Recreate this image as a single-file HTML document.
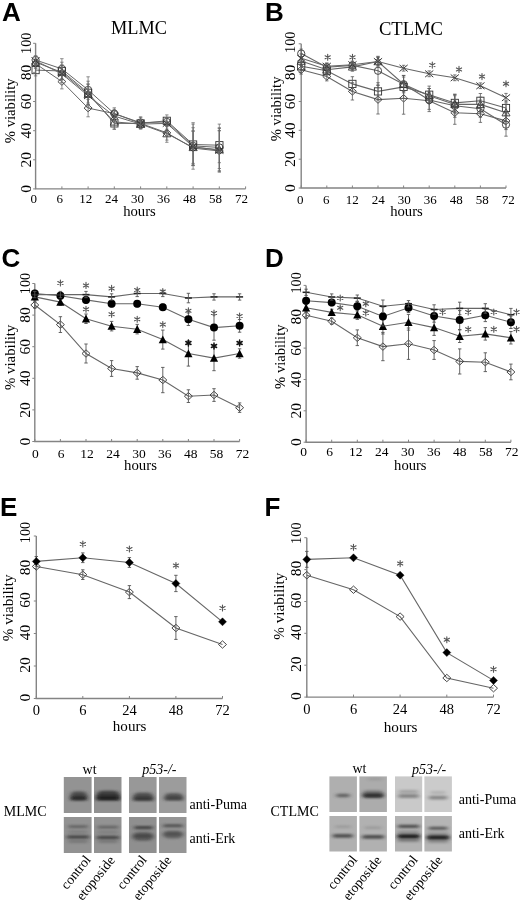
<!DOCTYPE html><html><head><meta charset="utf-8"><style>html,body{margin:0;padding:0;background:#fff;}svg{display:block;will-change:transform;}</style></head><body>
<svg width="520" height="904" viewBox="0 0 520 904">
<rect width="520" height="904" fill="#fff"/>
<text font-family="'Liberation Sans', sans-serif" font-weight="bold" font-size="26" x="2.0" y="21.3">A</text>
<text font-family="'Liberation Serif', serif" font-size="18.3" text-anchor="middle" x="139" y="34.3">MLMC</text>
<path d="M35.6,43.3 V188.9 H245.6" fill="none" stroke="#848484" stroke-width="1.4"/>
<line x1="33.1" y1="188.9" x2="35.6" y2="188.9" stroke="#848484" stroke-width="1"/>
<text font-family="'Liberation Serif', serif" font-size="15.5" text-anchor="middle" transform="translate(31.3,188.9) rotate(-90)">0</text>
<line x1="33.1" y1="159.8" x2="35.6" y2="159.8" stroke="#848484" stroke-width="1"/>
<text font-family="'Liberation Serif', serif" font-size="15.5" text-anchor="middle" transform="translate(31.3,159.8) rotate(-90)">20</text>
<line x1="33.1" y1="130.7" x2="35.6" y2="130.7" stroke="#848484" stroke-width="1"/>
<text font-family="'Liberation Serif', serif" font-size="15.5" text-anchor="middle" transform="translate(31.3,130.7) rotate(-90)">40</text>
<line x1="33.1" y1="101.5" x2="35.6" y2="101.5" stroke="#848484" stroke-width="1"/>
<text font-family="'Liberation Serif', serif" font-size="15.5" text-anchor="middle" transform="translate(31.3,101.5) rotate(-90)">60</text>
<line x1="33.1" y1="72.4" x2="35.6" y2="72.4" stroke="#848484" stroke-width="1"/>
<text font-family="'Liberation Serif', serif" font-size="15.5" text-anchor="middle" transform="translate(31.3,72.4) rotate(-90)">80</text>
<line x1="33.1" y1="43.3" x2="35.6" y2="43.3" stroke="#848484" stroke-width="1"/>
<text font-family="'Liberation Serif', serif" font-size="14.3" text-anchor="middle" transform="translate(31.3,43.3) rotate(-90)">100</text>
<line x1="35.6" y1="188.9" x2="35.6" y2="186.4" stroke="#848484" stroke-width="1"/>
<text font-family="'Liberation Serif', serif" font-size="13" text-anchor="middle" x="33.8" y="203.0">0</text>
<line x1="61.9" y1="188.9" x2="61.9" y2="186.4" stroke="#848484" stroke-width="1"/>
<text font-family="'Liberation Serif', serif" font-size="13" text-anchor="middle" x="59.7" y="203.0">6</text>
<line x1="88.1" y1="188.9" x2="88.1" y2="186.4" stroke="#848484" stroke-width="1"/>
<text font-family="'Liberation Serif', serif" font-size="13" text-anchor="middle" x="85.7" y="203.0">12</text>
<line x1="114.3" y1="188.9" x2="114.3" y2="186.4" stroke="#848484" stroke-width="1"/>
<text font-family="'Liberation Serif', serif" font-size="13" text-anchor="middle" x="111.6" y="203.0">24</text>
<line x1="140.6" y1="188.9" x2="140.6" y2="186.4" stroke="#848484" stroke-width="1"/>
<text font-family="'Liberation Serif', serif" font-size="13" text-anchor="middle" x="137.6" y="203.0">30</text>
<line x1="166.8" y1="188.9" x2="166.8" y2="186.4" stroke="#848484" stroke-width="1"/>
<text font-family="'Liberation Serif', serif" font-size="13" text-anchor="middle" x="163.6" y="203.0">36</text>
<line x1="193.1" y1="188.9" x2="193.1" y2="186.4" stroke="#848484" stroke-width="1"/>
<text font-family="'Liberation Serif', serif" font-size="13" text-anchor="middle" x="189.5" y="203.0">48</text>
<line x1="219.3" y1="188.9" x2="219.3" y2="186.4" stroke="#848484" stroke-width="1"/>
<text font-family="'Liberation Serif', serif" font-size="13" text-anchor="middle" x="215.5" y="203.0">58</text>
<line x1="245.6" y1="188.9" x2="245.6" y2="186.4" stroke="#848484" stroke-width="1"/>
<text font-family="'Liberation Serif', serif" font-size="13" text-anchor="middle" x="241.4" y="203.0">72</text>
<text font-family="'Liberation Serif', serif" font-size="14.7" text-anchor="middle" x="139.5" y="215.8">hours</text>
<text font-family="'Liberation Serif', serif" font-size="14.7" text-anchor="middle" transform="translate(15.1,110.8) rotate(-90)">% viability</text>
<path d="M35.6,63.7 L61.9,81.6 L88.1,108.1 L114.3,113.6 L140.6,123.4 L166.8,132.8 L193.1,148.1 L219.3,151.0" fill="none" stroke="#666" stroke-width="1.0"/>
<path d="M35.6,60.0 L39.6,63.7 L35.6,67.4 L31.6,63.7Z" fill="none" stroke="#333" stroke-width="0.9"/>
<path d="M61.9,77.9 L65.8,81.6 L61.9,85.3 L57.9,81.6Z" fill="none" stroke="#333" stroke-width="0.9"/>
<path d="M88.1,104.4 L92.1,108.1 L88.1,111.8 L84.1,108.1Z" fill="none" stroke="#333" stroke-width="0.9"/>
<path d="M114.3,109.9 L118.3,113.6 L114.3,117.3 L110.3,113.6Z" fill="none" stroke="#333" stroke-width="0.9"/>
<path d="M140.6,119.7 L144.6,123.4 L140.6,127.1 L136.6,123.4Z" fill="none" stroke="#333" stroke-width="0.9"/>
<path d="M166.8,129.1 L170.8,132.8 L166.8,136.5 L162.8,132.8Z" fill="none" stroke="#333" stroke-width="0.9"/>
<path d="M193.1,144.4 L197.1,148.1 L193.1,151.8 L189.1,148.1Z" fill="none" stroke="#333" stroke-width="0.9"/>
<path d="M219.3,147.3 L223.3,151.0 L219.3,154.7 L215.3,151.0Z" fill="none" stroke="#333" stroke-width="0.9"/>
<path d="M35.6,59.3 V68.1 M33.9,59.3 H37.3 M33.9,68.1 H37.3" stroke="#6a6a6a" stroke-width="0.75" fill="none"/>
<path d="M61.9,74.3 V88.9 M60.1,74.3 H63.6 M60.1,88.9 H63.6" stroke="#6a6a6a" stroke-width="0.75" fill="none"/>
<path d="M88.1,99.4 V116.8 M86.4,99.4 H89.8 M86.4,116.8 H89.8" stroke="#6a6a6a" stroke-width="0.75" fill="none"/>
<path d="M114.3,107.8 V119.4 M112.6,107.8 H116.0 M112.6,119.4 H116.0" stroke="#6a6a6a" stroke-width="0.75" fill="none"/>
<path d="M140.6,117.6 V129.2 M138.9,117.6 H142.3 M138.9,129.2 H142.3" stroke="#6a6a6a" stroke-width="0.75" fill="none"/>
<path d="M166.8,125.6 V140.1 M165.2,125.6 H168.5 M165.2,140.1 H168.5" stroke="#6a6a6a" stroke-width="0.75" fill="none"/>
<path d="M193.1,130.7 V165.6 M191.4,130.7 H194.8 M191.4,165.6 H194.8" stroke="#6a6a6a" stroke-width="0.75" fill="none"/>
<path d="M219.3,130.7 V171.4 M217.7,130.7 H221.0 M217.7,171.4 H221.0" stroke="#6a6a6a" stroke-width="0.75" fill="none"/>
<path d="M35.6,70.1 L61.9,71.0 L88.1,92.8 L114.3,123.4 L140.6,123.4 L166.8,120.8 L193.1,144.5 L219.3,145.2" fill="none" stroke="#666" stroke-width="1.0"/>
<rect x="32.0" y="66.5" width="7.2" height="7.2" fill="none" stroke="#333" stroke-width="0.9"/>
<rect x="58.2" y="67.4" width="7.2" height="7.2" fill="none" stroke="#333" stroke-width="0.9"/>
<rect x="84.5" y="89.2" width="7.2" height="7.2" fill="none" stroke="#333" stroke-width="0.9"/>
<rect x="110.8" y="119.8" width="7.2" height="7.2" fill="none" stroke="#333" stroke-width="0.9"/>
<rect x="137.0" y="119.8" width="7.2" height="7.2" fill="none" stroke="#333" stroke-width="0.9"/>
<rect x="163.2" y="117.2" width="7.2" height="7.2" fill="none" stroke="#333" stroke-width="0.9"/>
<rect x="189.5" y="140.9" width="7.2" height="7.2" fill="none" stroke="#333" stroke-width="0.9"/>
<rect x="215.8" y="141.6" width="7.2" height="7.2" fill="none" stroke="#333" stroke-width="0.9"/>
<path d="M35.6,64.3 V75.9 M33.9,64.3 H37.3 M33.9,75.9 H37.3" stroke="#6a6a6a" stroke-width="0.75" fill="none"/>
<path d="M61.9,62.2 V79.7 M60.1,62.2 H63.6 M60.1,79.7 H63.6" stroke="#6a6a6a" stroke-width="0.75" fill="none"/>
<path d="M88.1,81.2 V104.5 M86.4,81.2 H89.8 M86.4,104.5 H89.8" stroke="#6a6a6a" stroke-width="0.75" fill="none"/>
<path d="M114.3,117.6 V129.2 M112.6,117.6 H116.0 M112.6,129.2 H116.0" stroke="#6a6a6a" stroke-width="0.75" fill="none"/>
<path d="M140.6,119.0 V127.7 M138.9,119.0 H142.3 M138.9,127.7 H142.3" stroke="#6a6a6a" stroke-width="0.75" fill="none"/>
<path d="M166.8,114.9 V126.6 M165.2,114.9 H168.5 M165.2,126.6 H168.5" stroke="#6a6a6a" stroke-width="0.75" fill="none"/>
<path d="M193.1,124.1 V164.9 M191.4,124.1 H194.8 M191.4,164.9 H194.8" stroke="#6a6a6a" stroke-width="0.75" fill="none"/>
<path d="M219.3,127.7 V162.7 M217.7,127.7 H221.0 M217.7,162.7 H221.0" stroke="#6a6a6a" stroke-width="0.75" fill="none"/>
<path d="M35.6,60.0 L61.9,68.9 L88.1,89.9 L114.3,113.6 L140.6,122.7 L166.8,121.9 L193.1,145.9 L219.3,147.4" fill="none" stroke="#666" stroke-width="1.0"/>
<circle cx="35.6" cy="60.0" r="3.6" fill="none" stroke="#333" stroke-width="0.9"/>
<circle cx="61.9" cy="68.9" r="3.6" fill="none" stroke="#333" stroke-width="0.9"/>
<circle cx="88.1" cy="89.9" r="3.6" fill="none" stroke="#333" stroke-width="0.9"/>
<circle cx="114.3" cy="113.6" r="3.6" fill="none" stroke="#333" stroke-width="0.9"/>
<circle cx="140.6" cy="122.7" r="3.6" fill="none" stroke="#333" stroke-width="0.9"/>
<circle cx="166.8" cy="121.9" r="3.6" fill="none" stroke="#333" stroke-width="0.9"/>
<circle cx="193.1" cy="145.9" r="3.6" fill="none" stroke="#333" stroke-width="0.9"/>
<circle cx="219.3" cy="147.4" r="3.6" fill="none" stroke="#333" stroke-width="0.9"/>
<path d="M35.6,55.7 V64.4 M33.9,55.7 H37.3 M33.9,64.4 H37.3" stroke="#6a6a6a" stroke-width="0.75" fill="none"/>
<path d="M61.9,58.7 V79.1 M60.1,58.7 H63.6 M60.1,79.1 H63.6" stroke="#6a6a6a" stroke-width="0.75" fill="none"/>
<path d="M88.1,76.8 V103.0 M86.4,76.8 H89.8 M86.4,103.0 H89.8" stroke="#6a6a6a" stroke-width="0.75" fill="none"/>
<path d="M114.3,109.3 V118.0 M112.6,109.3 H116.0 M112.6,118.0 H116.0" stroke="#6a6a6a" stroke-width="0.75" fill="none"/>
<path d="M140.6,116.8 V128.5 M138.9,116.8 H142.3 M138.9,128.5 H142.3" stroke="#6a6a6a" stroke-width="0.75" fill="none"/>
<path d="M166.8,117.6 V126.3 M165.2,117.6 H168.5 M165.2,126.3 H168.5" stroke="#6a6a6a" stroke-width="0.75" fill="none"/>
<path d="M193.1,122.7 V169.2 M191.4,122.7 H194.8 M191.4,169.2 H194.8" stroke="#6a6a6a" stroke-width="0.75" fill="none"/>
<path d="M219.3,124.1 V170.7 M217.7,124.1 H221.0 M217.7,170.7 H221.0" stroke="#6a6a6a" stroke-width="0.75" fill="none"/>
<path d="M35.6,62.2 L61.9,72.4 L88.1,94.3 L114.3,121.9 L140.6,124.1 L166.8,133.6 L193.1,147.4 L219.3,149.6" fill="none" stroke="#666" stroke-width="1.0"/>
<path d="M35.6,58.2 L39.6,65.4 L31.6,65.4Z" fill="none" stroke="#333" stroke-width="0.9"/>
<path d="M61.9,68.4 L65.8,75.6 L57.9,75.6Z" fill="none" stroke="#333" stroke-width="0.9"/>
<path d="M88.1,90.3 L92.1,97.5 L84.1,97.5Z" fill="none" stroke="#333" stroke-width="0.9"/>
<path d="M114.3,117.9 L118.3,125.1 L110.3,125.1Z" fill="none" stroke="#333" stroke-width="0.9"/>
<path d="M140.6,120.1 L144.6,127.3 L136.6,127.3Z" fill="none" stroke="#333" stroke-width="0.9"/>
<path d="M166.8,129.6 L170.8,136.8 L162.8,136.8Z" fill="none" stroke="#333" stroke-width="0.9"/>
<path d="M193.1,143.4 L197.1,150.6 L189.1,150.6Z" fill="none" stroke="#333" stroke-width="0.9"/>
<path d="M219.3,145.6 L223.3,152.8 L215.3,152.8Z" fill="none" stroke="#333" stroke-width="0.9"/>
<path d="M35.6,56.4 V68.1 M33.9,56.4 H37.3 M33.9,68.1 H37.3" stroke="#6a6a6a" stroke-width="0.75" fill="none"/>
<path d="M61.9,65.1 V79.7 M60.1,65.1 H63.6 M60.1,79.7 H63.6" stroke="#6a6a6a" stroke-width="0.75" fill="none"/>
<path d="M88.1,84.1 V104.5 M86.4,84.1 H89.8 M86.4,104.5 H89.8" stroke="#6a6a6a" stroke-width="0.75" fill="none"/>
<path d="M114.3,114.6 V129.2 M112.6,114.6 H116.0 M112.6,129.2 H116.0" stroke="#6a6a6a" stroke-width="0.75" fill="none"/>
<path d="M140.6,119.7 V128.5 M138.9,119.7 H142.3 M138.9,128.5 H142.3" stroke="#6a6a6a" stroke-width="0.75" fill="none"/>
<path d="M166.8,124.8 V142.3 M165.2,124.8 H168.5 M165.2,142.3 H168.5" stroke="#6a6a6a" stroke-width="0.75" fill="none"/>
<path d="M193.1,131.4 V163.4 M191.4,131.4 H194.8 M191.4,163.4 H194.8" stroke="#6a6a6a" stroke-width="0.75" fill="none"/>
<path d="M219.3,130.7 V168.5 M217.7,130.7 H221.0 M217.7,168.5 H221.0" stroke="#6a6a6a" stroke-width="0.75" fill="none"/>
<path d="M35.6,60.8 L61.9,73.9 L88.1,95.7 L114.3,116.1 L140.6,124.1 L166.8,123.4 L193.1,146.7 L219.3,150.3" fill="none" stroke="#666" stroke-width="1.0"/>
<path d="M31.5,57.5 L39.7,64.1 M31.5,64.1 L39.7,57.5" stroke="#3a3a3a" stroke-width="1"/>
<path d="M57.8,70.6 L66.0,77.2 M57.8,77.2 L66.0,70.6" stroke="#3a3a3a" stroke-width="1"/>
<path d="M84.0,92.4 L92.2,99.0 M84.0,99.0 L92.2,92.4" stroke="#3a3a3a" stroke-width="1"/>
<path d="M110.2,112.8 L118.4,119.4 M110.2,119.4 L118.4,112.8" stroke="#3a3a3a" stroke-width="1"/>
<path d="M136.5,120.8 L144.7,127.4 M136.5,127.4 L144.7,120.8" stroke="#3a3a3a" stroke-width="1"/>
<path d="M162.8,120.1 L170.9,126.7 M162.8,126.7 L170.9,120.1" stroke="#3a3a3a" stroke-width="1"/>
<path d="M189.0,143.4 L197.2,150.0 M189.0,150.0 L197.2,143.4" stroke="#3a3a3a" stroke-width="1"/>
<path d="M215.2,147.0 L223.4,153.6 M215.2,153.6 L223.4,147.0" stroke="#3a3a3a" stroke-width="1"/>
<path d="M35.6,56.4 V65.1 M33.9,56.4 H37.3 M33.9,65.1 H37.3" stroke="#6a6a6a" stroke-width="0.75" fill="none"/>
<path d="M61.9,65.1 V82.6 M60.1,65.1 H63.6 M60.1,82.6 H63.6" stroke="#6a6a6a" stroke-width="0.75" fill="none"/>
<path d="M88.1,84.1 V107.4 M86.4,84.1 H89.8 M86.4,107.4 H89.8" stroke="#6a6a6a" stroke-width="0.75" fill="none"/>
<path d="M114.3,110.3 V121.9 M112.6,110.3 H116.0 M112.6,121.9 H116.0" stroke="#6a6a6a" stroke-width="0.75" fill="none"/>
<path d="M140.6,119.7 V128.5 M138.9,119.7 H142.3 M138.9,128.5 H142.3" stroke="#6a6a6a" stroke-width="0.75" fill="none"/>
<path d="M166.8,117.6 V129.2 M165.2,117.6 H168.5 M165.2,129.2 H168.5" stroke="#6a6a6a" stroke-width="0.75" fill="none"/>
<path d="M193.1,127.7 V165.6 M191.4,127.7 H194.8 M191.4,165.6 H194.8" stroke="#6a6a6a" stroke-width="0.75" fill="none"/>
<path d="M219.3,128.5 V172.2 M217.7,128.5 H221.0 M217.7,172.2 H221.0" stroke="#6a6a6a" stroke-width="0.75" fill="none"/>
<text font-family="'Liberation Sans', sans-serif" font-weight="bold" font-size="26" x="265.0" y="21.3">B</text>
<text font-family="'Liberation Serif', serif" font-size="18.6" text-anchor="middle" x="411" y="34.6">CTLMC</text>
<path d="M301.2,43.8 V188.0 H506.0" fill="none" stroke="#848484" stroke-width="1.4"/>
<line x1="298.7" y1="188.0" x2="301.2" y2="188.0" stroke="#848484" stroke-width="1"/>
<text font-family="'Liberation Serif', serif" font-size="15.5" text-anchor="middle" transform="translate(295.4,188.0) rotate(-90)">0</text>
<line x1="298.7" y1="159.2" x2="301.2" y2="159.2" stroke="#848484" stroke-width="1"/>
<text font-family="'Liberation Serif', serif" font-size="15.5" text-anchor="middle" transform="translate(295.4,159.2) rotate(-90)">20</text>
<line x1="298.7" y1="130.3" x2="301.2" y2="130.3" stroke="#848484" stroke-width="1"/>
<text font-family="'Liberation Serif', serif" font-size="15.5" text-anchor="middle" transform="translate(295.4,130.3) rotate(-90)">40</text>
<line x1="298.7" y1="101.5" x2="301.2" y2="101.5" stroke="#848484" stroke-width="1"/>
<text font-family="'Liberation Serif', serif" font-size="15.5" text-anchor="middle" transform="translate(295.4,101.5) rotate(-90)">60</text>
<line x1="298.7" y1="72.6" x2="301.2" y2="72.6" stroke="#848484" stroke-width="1"/>
<text font-family="'Liberation Serif', serif" font-size="15.5" text-anchor="middle" transform="translate(295.4,72.6) rotate(-90)">80</text>
<line x1="298.7" y1="43.8" x2="301.2" y2="43.8" stroke="#848484" stroke-width="1"/>
<text font-family="'Liberation Serif', serif" font-size="14.3" text-anchor="middle" transform="translate(295.4,42.3) rotate(-90)">100</text>
<line x1="301.2" y1="188.0" x2="301.2" y2="185.5" stroke="#848484" stroke-width="1"/>
<text font-family="'Liberation Serif', serif" font-size="13" text-anchor="middle" x="300.3" y="203.5">0</text>
<line x1="326.8" y1="188.0" x2="326.8" y2="185.5" stroke="#848484" stroke-width="1"/>
<text font-family="'Liberation Serif', serif" font-size="13" text-anchor="middle" x="326.3" y="203.5">6</text>
<line x1="352.4" y1="188.0" x2="352.4" y2="185.5" stroke="#848484" stroke-width="1"/>
<text font-family="'Liberation Serif', serif" font-size="13" text-anchor="middle" x="352.3" y="203.5">12</text>
<line x1="378.0" y1="188.0" x2="378.0" y2="185.5" stroke="#848484" stroke-width="1"/>
<text font-family="'Liberation Serif', serif" font-size="13" text-anchor="middle" x="378.3" y="203.5">24</text>
<line x1="403.6" y1="188.0" x2="403.6" y2="185.5" stroke="#848484" stroke-width="1"/>
<text font-family="'Liberation Serif', serif" font-size="13" text-anchor="middle" x="404.3" y="203.5">30</text>
<line x1="429.2" y1="188.0" x2="429.2" y2="185.5" stroke="#848484" stroke-width="1"/>
<text font-family="'Liberation Serif', serif" font-size="13" text-anchor="middle" x="430.3" y="203.5">36</text>
<line x1="454.8" y1="188.0" x2="454.8" y2="185.5" stroke="#848484" stroke-width="1"/>
<text font-family="'Liberation Serif', serif" font-size="13" text-anchor="middle" x="456.3" y="203.5">48</text>
<line x1="480.4" y1="188.0" x2="480.4" y2="185.5" stroke="#848484" stroke-width="1"/>
<text font-family="'Liberation Serif', serif" font-size="13" text-anchor="middle" x="482.3" y="203.5">58</text>
<line x1="506.0" y1="188.0" x2="506.0" y2="185.5" stroke="#848484" stroke-width="1"/>
<text font-family="'Liberation Serif', serif" font-size="13" text-anchor="middle" x="508.3" y="203.5">72</text>
<text font-family="'Liberation Serif', serif" font-size="14.7" text-anchor="middle" x="406.5" y="216.2">hours</text>
<text font-family="'Liberation Serif', serif" font-size="14.7" text-anchor="middle" transform="translate(280.7,108.9) rotate(-90)">% viability</text>
<path d="M301.2,69.8 L326.8,76.5 L352.4,91.4 L378.0,99.6 L403.6,98.3 L429.2,100.8 L454.8,112.7 L480.4,113.7 L506.0,120.9" fill="none" stroke="#666" stroke-width="1.1"/>
<path d="M301.2,66.1 L305.2,69.8 L301.2,73.5 L297.2,69.8Z" fill="none" stroke="#333" stroke-width="0.9"/>
<path d="M326.8,72.8 L330.8,76.5 L326.8,80.2 L322.8,76.5Z" fill="none" stroke="#333" stroke-width="0.9"/>
<path d="M352.4,87.7 L356.4,91.4 L352.4,95.1 L348.4,91.4Z" fill="none" stroke="#333" stroke-width="0.9"/>
<path d="M378.0,95.9 L382.0,99.6 L378.0,103.3 L374.0,99.6Z" fill="none" stroke="#333" stroke-width="0.9"/>
<path d="M403.6,94.6 L407.6,98.3 L403.6,102.0 L399.6,98.3Z" fill="none" stroke="#333" stroke-width="0.9"/>
<path d="M429.2,97.1 L433.2,100.8 L429.2,104.5 L425.2,100.8Z" fill="none" stroke="#333" stroke-width="0.9"/>
<path d="M454.8,109.0 L458.8,112.7 L454.8,116.4 L450.8,112.7Z" fill="none" stroke="#333" stroke-width="0.9"/>
<path d="M480.4,110.0 L484.4,113.7 L480.4,117.4 L476.4,113.7Z" fill="none" stroke="#333" stroke-width="0.9"/>
<path d="M506.0,117.2 L510.0,120.9 L506.0,124.6 L502.0,120.9Z" fill="none" stroke="#333" stroke-width="0.9"/>
<path d="M301.2,65.4 V74.1 M299.5,65.4 H302.9 M299.5,74.1 H302.9" stroke="#5a5a5a" stroke-width="0.8" fill="none"/>
<path d="M326.8,72.2 V80.9 M325.1,72.2 H328.5 M325.1,80.9 H328.5" stroke="#5a5a5a" stroke-width="0.8" fill="none"/>
<path d="M352.4,82.7 V100.0 M350.7,82.7 H354.1 M350.7,100.0 H354.1" stroke="#5a5a5a" stroke-width="0.8" fill="none"/>
<path d="M378.0,85.2 V114.0 M376.3,85.2 H379.7 M376.3,114.0 H379.7" stroke="#5a5a5a" stroke-width="0.8" fill="none"/>
<path d="M403.6,82.4 V114.2 M401.9,82.4 H405.3 M401.9,114.2 H405.3" stroke="#5a5a5a" stroke-width="0.8" fill="none"/>
<path d="M429.2,92.1 V109.4 M427.5,92.1 H430.9 M427.5,109.4 H430.9" stroke="#5a5a5a" stroke-width="0.8" fill="none"/>
<path d="M454.8,101.2 V124.3 M453.1,101.2 H456.5 M453.1,124.3 H456.5" stroke="#5a5a5a" stroke-width="0.8" fill="none"/>
<path d="M480.4,105.1 V122.4 M478.7,105.1 H482.1 M478.7,122.4 H482.1" stroke="#5a5a5a" stroke-width="0.8" fill="none"/>
<path d="M506.0,112.3 V129.6 M504.3,112.3 H507.7 M504.3,129.6 H507.7" stroke="#5a5a5a" stroke-width="0.8" fill="none"/>
<path d="M301.2,66.2 L326.8,70.8 L352.4,83.9 L378.0,91.4 L403.6,86.9 L429.2,94.7 L454.8,102.9 L480.4,100.8 L506.0,108.0" fill="none" stroke="#666" stroke-width="1.1"/>
<rect x="297.6" y="62.6" width="7.2" height="7.2" fill="none" stroke="#333" stroke-width="0.9"/>
<rect x="323.2" y="67.2" width="7.2" height="7.2" fill="none" stroke="#333" stroke-width="0.9"/>
<rect x="348.8" y="80.3" width="7.2" height="7.2" fill="none" stroke="#333" stroke-width="0.9"/>
<rect x="374.4" y="87.8" width="7.2" height="7.2" fill="none" stroke="#333" stroke-width="0.9"/>
<rect x="400.0" y="83.3" width="7.2" height="7.2" fill="none" stroke="#333" stroke-width="0.9"/>
<rect x="425.6" y="91.1" width="7.2" height="7.2" fill="none" stroke="#333" stroke-width="0.9"/>
<rect x="451.2" y="99.3" width="7.2" height="7.2" fill="none" stroke="#333" stroke-width="0.9"/>
<rect x="476.8" y="97.2" width="7.2" height="7.2" fill="none" stroke="#333" stroke-width="0.9"/>
<rect x="502.4" y="104.4" width="7.2" height="7.2" fill="none" stroke="#333" stroke-width="0.9"/>
<path d="M301.2,61.8 V70.5 M299.5,61.8 H302.9 M299.5,70.5 H302.9" stroke="#5a5a5a" stroke-width="0.8" fill="none"/>
<path d="M326.8,66.4 V75.1 M325.1,66.4 H328.5 M325.1,75.1 H328.5" stroke="#5a5a5a" stroke-width="0.8" fill="none"/>
<path d="M352.4,76.7 V91.1 M350.7,76.7 H354.1 M350.7,91.1 H354.1" stroke="#5a5a5a" stroke-width="0.8" fill="none"/>
<path d="M378.0,82.7 V100.0 M376.3,82.7 H379.7 M376.3,100.0 H379.7" stroke="#5a5a5a" stroke-width="0.8" fill="none"/>
<path d="M403.6,75.4 V98.5 M401.9,75.4 H405.3 M401.9,98.5 H405.3" stroke="#5a5a5a" stroke-width="0.8" fill="none"/>
<path d="M429.2,86.1 V103.4 M427.5,86.1 H430.9 M427.5,103.4 H430.9" stroke="#5a5a5a" stroke-width="0.8" fill="none"/>
<path d="M454.8,94.3 V111.6 M453.1,94.3 H456.5 M453.1,111.6 H456.5" stroke="#5a5a5a" stroke-width="0.8" fill="none"/>
<path d="M480.4,93.5 V108.0 M478.7,93.5 H482.1 M478.7,108.0 H482.1" stroke="#5a5a5a" stroke-width="0.8" fill="none"/>
<path d="M506.0,100.8 V115.2 M504.3,100.8 H507.7 M504.3,115.2 H507.7" stroke="#5a5a5a" stroke-width="0.8" fill="none"/>
<path d="M301.2,53.5 L326.8,67.3 L352.4,65.4 L378.0,70.8 L403.6,84.2 L429.2,100.0 L454.8,105.8 L480.4,108.7 L506.0,124.7" fill="none" stroke="#666" stroke-width="1.1"/>
<circle cx="301.2" cy="53.5" r="3.6" fill="none" stroke="#333" stroke-width="0.9"/>
<circle cx="326.8" cy="67.3" r="3.6" fill="none" stroke="#333" stroke-width="0.9"/>
<circle cx="352.4" cy="65.4" r="3.6" fill="none" stroke="#333" stroke-width="0.9"/>
<circle cx="378.0" cy="70.8" r="3.6" fill="none" stroke="#333" stroke-width="0.9"/>
<circle cx="403.6" cy="84.2" r="3.6" fill="none" stroke="#333" stroke-width="0.9"/>
<circle cx="429.2" cy="100.0" r="3.6" fill="none" stroke="#333" stroke-width="0.9"/>
<circle cx="454.8" cy="105.8" r="3.6" fill="none" stroke="#333" stroke-width="0.9"/>
<circle cx="480.4" cy="108.7" r="3.6" fill="none" stroke="#333" stroke-width="0.9"/>
<circle cx="506.0" cy="124.7" r="3.6" fill="none" stroke="#333" stroke-width="0.9"/>
<path d="M301.2,49.1 V57.8 M299.5,49.1 H302.9 M299.5,57.8 H302.9" stroke="#5a5a5a" stroke-width="0.8" fill="none"/>
<path d="M326.8,63.0 V71.6 M325.1,63.0 H328.5 M325.1,71.6 H328.5" stroke="#5a5a5a" stroke-width="0.8" fill="none"/>
<path d="M352.4,61.1 V69.8 M350.7,61.1 H354.1 M350.7,69.8 H354.1" stroke="#5a5a5a" stroke-width="0.8" fill="none"/>
<path d="M378.0,56.3 V85.2 M376.3,56.3 H379.7 M376.3,85.2 H379.7" stroke="#5a5a5a" stroke-width="0.8" fill="none"/>
<path d="M403.6,75.5 V92.8 M401.9,75.5 H405.3 M401.9,92.8 H405.3" stroke="#5a5a5a" stroke-width="0.8" fill="none"/>
<path d="M429.2,88.5 V111.6 M427.5,88.5 H430.9 M427.5,111.6 H430.9" stroke="#5a5a5a" stroke-width="0.8" fill="none"/>
<path d="M454.8,94.3 V117.3 M453.1,94.3 H456.5 M453.1,117.3 H456.5" stroke="#5a5a5a" stroke-width="0.8" fill="none"/>
<path d="M480.4,100.0 V117.3 M478.7,100.0 H482.1 M478.7,117.3 H482.1" stroke="#5a5a5a" stroke-width="0.8" fill="none"/>
<path d="M506.0,113.2 V136.2 M504.3,113.2 H507.7 M504.3,136.2 H507.7" stroke="#5a5a5a" stroke-width="0.8" fill="none"/>
<path d="M301.2,61.1 L326.8,69.8 L352.4,66.9 L378.0,61.5 L403.6,84.2 L429.2,95.7 L454.8,104.4 L480.4,104.4 L506.0,112.7" fill="none" stroke="#666" stroke-width="1.1"/>
<path d="M301.2,57.1 L305.2,64.3 L297.2,64.3Z" fill="none" stroke="#333" stroke-width="0.9"/>
<path d="M326.8,65.8 L330.8,73.0 L322.8,73.0Z" fill="none" stroke="#333" stroke-width="0.9"/>
<path d="M352.4,62.9 L356.4,70.1 L348.4,70.1Z" fill="none" stroke="#333" stroke-width="0.9"/>
<path d="M378.0,57.5 L382.0,64.7 L374.0,64.7Z" fill="none" stroke="#333" stroke-width="0.9"/>
<path d="M403.6,80.2 L407.6,87.4 L399.6,87.4Z" fill="none" stroke="#333" stroke-width="0.9"/>
<path d="M429.2,91.7 L433.2,98.9 L425.2,98.9Z" fill="none" stroke="#333" stroke-width="0.9"/>
<path d="M454.8,100.4 L458.8,107.6 L450.8,107.6Z" fill="none" stroke="#333" stroke-width="0.9"/>
<path d="M480.4,100.4 L484.4,107.6 L476.4,107.6Z" fill="none" stroke="#333" stroke-width="0.9"/>
<path d="M506.0,108.7 L510.0,115.9 L502.0,115.9Z" fill="none" stroke="#333" stroke-width="0.9"/>
<path d="M301.2,56.8 V65.4 M299.5,56.8 H302.9 M299.5,65.4 H302.9" stroke="#5a5a5a" stroke-width="0.8" fill="none"/>
<path d="M326.8,65.4 V74.1 M325.1,65.4 H328.5 M325.1,74.1 H328.5" stroke="#5a5a5a" stroke-width="0.8" fill="none"/>
<path d="M352.4,62.5 V71.2 M350.7,62.5 H354.1 M350.7,71.2 H354.1" stroke="#5a5a5a" stroke-width="0.8" fill="none"/>
<path d="M378.0,57.2 V65.9 M376.3,57.2 H379.7 M376.3,65.9 H379.7" stroke="#5a5a5a" stroke-width="0.8" fill="none"/>
<path d="M403.6,77.0 V91.4 M401.9,77.0 H405.3 M401.9,91.4 H405.3" stroke="#5a5a5a" stroke-width="0.8" fill="none"/>
<path d="M429.2,88.5 V102.9 M427.5,88.5 H430.9 M427.5,102.9 H430.9" stroke="#5a5a5a" stroke-width="0.8" fill="none"/>
<path d="M454.8,95.7 V113.0 M453.1,95.7 H456.5 M453.1,113.0 H456.5" stroke="#5a5a5a" stroke-width="0.8" fill="none"/>
<path d="M480.4,97.2 V111.6 M478.7,97.2 H482.1 M478.7,111.6 H482.1" stroke="#5a5a5a" stroke-width="0.8" fill="none"/>
<path d="M506.0,104.1 V121.4 M504.3,104.1 H507.7 M504.3,121.4 H507.7" stroke="#5a5a5a" stroke-width="0.8" fill="none"/>
<path d="M301.2,58.2 L326.8,66.2 L352.4,64.7 L378.0,61.5 L403.6,68.2 L429.2,73.8 L454.8,77.8 L480.4,85.8 L506.0,97.7" fill="none" stroke="#666" stroke-width="1.1"/>
<path d="M297.1,54.9 L305.3,61.5 M297.1,61.5 L305.3,54.9" stroke="#3a3a3a" stroke-width="1"/>
<path d="M322.7,62.9 L330.9,69.5 M322.7,69.5 L330.9,62.9" stroke="#3a3a3a" stroke-width="1"/>
<path d="M348.3,61.4 L356.5,68.0 M348.3,68.0 L356.5,61.4" stroke="#3a3a3a" stroke-width="1"/>
<path d="M373.9,58.2 L382.1,64.8 M373.9,64.8 L382.1,58.2" stroke="#3a3a3a" stroke-width="1"/>
<path d="M399.5,64.9 L407.7,71.5 M399.5,71.5 L407.7,64.9" stroke="#3a3a3a" stroke-width="1"/>
<path d="M425.1,70.5 L433.3,77.1 M425.1,77.1 L433.3,70.5" stroke="#3a3a3a" stroke-width="1"/>
<path d="M450.7,74.5 L458.9,81.1 M450.7,81.1 L458.9,74.5" stroke="#3a3a3a" stroke-width="1"/>
<path d="M476.3,82.5 L484.5,89.1 M476.3,89.1 L484.5,82.5" stroke="#3a3a3a" stroke-width="1"/>
<path d="M501.9,94.4 L510.1,101.0 M501.9,101.0 L510.1,94.4" stroke="#3a3a3a" stroke-width="1"/>
<path d="M301.2,53.9 V62.5 M299.5,53.9 H302.9 M299.5,62.5 H302.9" stroke="#5a5a5a" stroke-width="0.8" fill="none"/>
<path d="M326.8,63.3 V69.0 M325.1,63.3 H328.5 M325.1,69.0 H328.5" stroke="#5a5a5a" stroke-width="0.8" fill="none"/>
<path d="M352.4,61.8 V67.6 M350.7,61.8 H354.1 M350.7,67.6 H354.1" stroke="#5a5a5a" stroke-width="0.8" fill="none"/>
<path d="M378.0,57.2 V65.9 M376.3,57.2 H379.7 M376.3,65.9 H379.7" stroke="#5a5a5a" stroke-width="0.8" fill="none"/>
<path d="M403.6,65.3 V71.1 M401.9,65.3 H405.3 M401.9,71.1 H405.3" stroke="#5a5a5a" stroke-width="0.8" fill="none"/>
<path d="M429.2,70.9 V76.7 M427.5,70.9 H430.9 M427.5,76.7 H430.9" stroke="#5a5a5a" stroke-width="0.8" fill="none"/>
<path d="M454.8,74.9 V80.7 M453.1,74.9 H456.5 M453.1,80.7 H456.5" stroke="#5a5a5a" stroke-width="0.8" fill="none"/>
<path d="M480.4,82.9 V88.6 M478.7,82.9 H482.1 M478.7,88.6 H482.1" stroke="#5a5a5a" stroke-width="0.8" fill="none"/>
<path d="M506.0,93.4 V102.1 M504.3,93.4 H507.7 M504.3,102.1 H507.7" stroke="#5a5a5a" stroke-width="0.8" fill="none"/>
<path d="M327.70,60.30 L327.70,54.30 M325.10,58.80 L330.30,55.80 M330.30,58.80 L325.10,55.80 " stroke="#555" stroke-width="1.1" stroke-linecap="round" fill="none"/>
<path d="M352.50,60.30 L352.50,54.30 M349.90,58.80 L355.10,55.80 M355.10,58.80 L349.90,55.80 " stroke="#555" stroke-width="1.1" stroke-linecap="round" fill="none"/>
<path d="M432.30,68.10 L432.30,62.10 M429.70,66.60 L434.90,63.60 M434.90,66.60 L429.70,63.60 " stroke="#555" stroke-width="1.1" stroke-linecap="round" fill="none"/>
<path d="M459.00,72.40 L459.00,66.40 M456.40,70.90 L461.60,67.90 M461.60,70.90 L456.40,67.90 " stroke="#555" stroke-width="1.1" stroke-linecap="round" fill="none"/>
<path d="M482.00,79.60 L482.00,73.60 M479.40,78.10 L484.60,75.10 M484.60,78.10 L479.40,75.10 " stroke="#555" stroke-width="1.1" stroke-linecap="round" fill="none"/>
<path d="M506.00,86.80 L506.00,80.80 M503.40,85.30 L508.60,82.30 M508.60,85.30 L503.40,82.30 " stroke="#555" stroke-width="1.1" stroke-linecap="round" fill="none"/>
<text font-family="'Liberation Sans', sans-serif" font-weight="bold" font-size="26" x="1.5" y="266.8">C</text>
<path d="M34.8,283.5 V441.5 H239.6" fill="none" stroke="#848484" stroke-width="1.4"/>
<line x1="32.3" y1="441.5" x2="34.8" y2="441.5" stroke="#848484" stroke-width="1"/>
<text font-family="'Liberation Serif', serif" font-size="15.5" text-anchor="middle" transform="translate(29.8,441.5) rotate(-90)">0</text>
<line x1="32.3" y1="409.9" x2="34.8" y2="409.9" stroke="#848484" stroke-width="1"/>
<text font-family="'Liberation Serif', serif" font-size="15.5" text-anchor="middle" transform="translate(29.8,409.9) rotate(-90)">20</text>
<line x1="32.3" y1="378.3" x2="34.8" y2="378.3" stroke="#848484" stroke-width="1"/>
<text font-family="'Liberation Serif', serif" font-size="15.5" text-anchor="middle" transform="translate(29.8,378.3) rotate(-90)">40</text>
<line x1="32.3" y1="346.7" x2="34.8" y2="346.7" stroke="#848484" stroke-width="1"/>
<text font-family="'Liberation Serif', serif" font-size="15.5" text-anchor="middle" transform="translate(29.8,346.7) rotate(-90)">60</text>
<line x1="32.3" y1="315.1" x2="34.8" y2="315.1" stroke="#848484" stroke-width="1"/>
<text font-family="'Liberation Serif', serif" font-size="15.5" text-anchor="middle" transform="translate(29.8,315.1) rotate(-90)">80</text>
<line x1="32.3" y1="283.5" x2="34.8" y2="283.5" stroke="#848484" stroke-width="1"/>
<text font-family="'Liberation Serif', serif" font-size="14.3" text-anchor="middle" transform="translate(29.8,283.5) rotate(-90)">100</text>
<line x1="34.8" y1="441.5" x2="34.8" y2="439.0" stroke="#848484" stroke-width="1"/>
<text font-family="'Liberation Serif', serif" font-size="13.5" text-anchor="middle" x="35.3" y="458.3">0</text>
<line x1="60.4" y1="441.5" x2="60.4" y2="439.0" stroke="#848484" stroke-width="1"/>
<text font-family="'Liberation Serif', serif" font-size="13.5" text-anchor="middle" x="61.2" y="458.3">6</text>
<line x1="86.0" y1="441.5" x2="86.0" y2="439.0" stroke="#848484" stroke-width="1"/>
<text font-family="'Liberation Serif', serif" font-size="13.5" text-anchor="middle" x="87.1" y="458.3">12</text>
<line x1="111.6" y1="441.5" x2="111.6" y2="439.0" stroke="#848484" stroke-width="1"/>
<text font-family="'Liberation Serif', serif" font-size="13.5" text-anchor="middle" x="113.0" y="458.3">24</text>
<line x1="137.2" y1="441.5" x2="137.2" y2="439.0" stroke="#848484" stroke-width="1"/>
<text font-family="'Liberation Serif', serif" font-size="13.5" text-anchor="middle" x="138.9" y="458.3">30</text>
<line x1="162.8" y1="441.5" x2="162.8" y2="439.0" stroke="#848484" stroke-width="1"/>
<text font-family="'Liberation Serif', serif" font-size="13.5" text-anchor="middle" x="164.8" y="458.3">36</text>
<line x1="188.4" y1="441.5" x2="188.4" y2="439.0" stroke="#848484" stroke-width="1"/>
<text font-family="'Liberation Serif', serif" font-size="13.5" text-anchor="middle" x="190.7" y="458.3">48</text>
<line x1="214.0" y1="441.5" x2="214.0" y2="439.0" stroke="#848484" stroke-width="1"/>
<text font-family="'Liberation Serif', serif" font-size="13.5" text-anchor="middle" x="216.6" y="458.3">58</text>
<line x1="239.6" y1="441.5" x2="239.6" y2="439.0" stroke="#848484" stroke-width="1"/>
<text font-family="'Liberation Serif', serif" font-size="13.5" text-anchor="middle" x="242.5" y="458.3">72</text>
<text font-family="'Liberation Serif', serif" font-size="14.8" text-anchor="middle" x="140.5" y="470.4">hours</text>
<text font-family="'Liberation Serif', serif" font-size="14.8" text-anchor="middle" transform="translate(14.6,357.3) rotate(-90)">% viability</text>
<path d="M34.8,305.0 L60.4,324.6 L86.0,353.5 L111.6,368.5 L137.2,372.9 L162.8,380.0 L188.4,396.2 L214.0,395.0 L239.6,407.7" fill="none" stroke="#666" stroke-width="1.1"/>
<path d="M34.8,301.3 L38.8,305.0 L34.8,308.7 L30.8,305.0Z" fill="none" stroke="#333" stroke-width="0.9"/>
<path d="M60.4,320.9 L64.4,324.6 L60.4,328.3 L56.4,324.6Z" fill="none" stroke="#333" stroke-width="0.9"/>
<path d="M86.0,349.8 L90.0,353.5 L86.0,357.2 L82.0,353.5Z" fill="none" stroke="#333" stroke-width="0.9"/>
<path d="M111.6,364.8 L115.6,368.5 L111.6,372.2 L107.6,368.5Z" fill="none" stroke="#333" stroke-width="0.9"/>
<path d="M137.2,369.2 L141.2,372.9 L137.2,376.6 L133.2,372.9Z" fill="none" stroke="#333" stroke-width="0.9"/>
<path d="M162.8,376.3 L166.8,380.0 L162.8,383.7 L158.8,380.0Z" fill="none" stroke="#333" stroke-width="0.9"/>
<path d="M188.4,392.5 L192.4,396.2 L188.4,399.9 L184.4,396.2Z" fill="none" stroke="#333" stroke-width="0.9"/>
<path d="M214.0,391.3 L218.0,395.0 L214.0,398.7 L210.0,395.0Z" fill="none" stroke="#333" stroke-width="0.9"/>
<path d="M239.6,404.0 L243.6,407.7 L239.6,411.4 L235.6,407.7Z" fill="none" stroke="#333" stroke-width="0.9"/>
<path d="M34.8,301.8 V308.1 M33.1,301.8 H36.5 M33.1,308.1 H36.5" stroke="#555" stroke-width="0.9" fill="none"/>
<path d="M60.4,316.7 V332.5 M58.7,316.7 H62.1 M58.7,332.5 H62.1" stroke="#555" stroke-width="0.9" fill="none"/>
<path d="M86.0,344.0 V363.0 M84.3,344.0 H87.7 M84.3,363.0 H87.7" stroke="#555" stroke-width="0.9" fill="none"/>
<path d="M111.6,360.6 V376.4 M109.9,360.6 H113.3 M109.9,376.4 H113.3" stroke="#555" stroke-width="0.9" fill="none"/>
<path d="M137.2,366.6 V379.2 M135.5,366.6 H138.9 M135.5,379.2 H138.9" stroke="#555" stroke-width="0.9" fill="none"/>
<path d="M162.8,367.4 V392.7 M161.1,367.4 H164.5 M161.1,392.7 H164.5" stroke="#555" stroke-width="0.9" fill="none"/>
<path d="M188.4,389.8 V402.5 M186.7,389.8 H190.1 M186.7,402.5 H190.1" stroke="#555" stroke-width="0.9" fill="none"/>
<path d="M214.0,388.7 V401.4 M212.3,388.7 H215.7 M212.3,401.4 H215.7" stroke="#555" stroke-width="0.9" fill="none"/>
<path d="M239.6,402.9 V412.4 M237.9,402.9 H241.3 M237.9,412.4 H241.3" stroke="#555" stroke-width="0.9" fill="none"/>
<path d="M34.8,296.9 L60.4,302.1 L86.0,318.7 L111.6,326.2 L137.2,329.2 L162.8,339.6 L188.4,353.5 L214.0,358.1 L239.6,353.5" fill="none" stroke="#666" stroke-width="1.1"/>
<path d="M34.8,293.8 V300.1 M33.1,293.8 H36.5 M33.1,300.1 H36.5" stroke="#555" stroke-width="0.9" fill="none"/>
<path d="M60.4,299.0 V305.3 M58.7,299.0 H62.1 M58.7,305.3 H62.1" stroke="#555" stroke-width="0.9" fill="none"/>
<path d="M86.0,314.0 V323.5 M84.3,314.0 H87.7 M84.3,323.5 H87.7" stroke="#555" stroke-width="0.9" fill="none"/>
<path d="M111.6,321.4 V330.9 M109.9,321.4 H113.3 M109.9,330.9 H113.3" stroke="#555" stroke-width="0.9" fill="none"/>
<path d="M137.2,324.4 V333.9 M135.5,324.4 H138.9 M135.5,333.9 H138.9" stroke="#555" stroke-width="0.9" fill="none"/>
<path d="M162.8,330.1 V349.1 M161.1,330.1 H164.5 M161.1,349.1 H164.5" stroke="#555" stroke-width="0.9" fill="none"/>
<path d="M188.4,340.9 V366.1 M186.7,340.9 H190.1 M186.7,366.1 H190.1" stroke="#555" stroke-width="0.9" fill="none"/>
<path d="M214.0,345.4 V370.7 M212.3,345.4 H215.7 M212.3,370.7 H215.7" stroke="#555" stroke-width="0.9" fill="none"/>
<path d="M239.6,348.8 V358.2 M237.9,348.8 H241.3 M237.9,358.2 H241.3" stroke="#555" stroke-width="0.9" fill="none"/>
<path d="M34.8,292.8 L38.9,300.6 L30.7,300.6Z" fill="#000"/>
<path d="M60.4,298.0 L64.5,305.8 L56.3,305.8Z" fill="#000"/>
<path d="M86.0,314.6 L90.1,322.4 L81.9,322.4Z" fill="#000"/>
<path d="M111.6,322.1 L115.7,329.8 L107.5,329.8Z" fill="#000"/>
<path d="M137.2,325.1 L141.3,332.9 L133.1,332.9Z" fill="#000"/>
<path d="M162.8,335.5 L166.9,343.3 L158.7,343.3Z" fill="#000"/>
<path d="M188.4,349.4 L192.5,357.2 L184.3,357.2Z" fill="#000"/>
<path d="M214.0,354.0 L218.1,361.8 L209.9,361.8Z" fill="#000"/>
<path d="M239.6,349.4 L243.7,357.2 L235.5,357.2Z" fill="#000"/>
<path d="M34.8,293.5 L60.4,295.8 L86.0,299.9 L111.6,303.7 L137.2,303.7 L162.8,307.2 L188.4,319.2 L214.0,327.6 L239.6,325.8" fill="none" stroke="#666" stroke-width="1.1"/>
<path d="M34.8,290.3 V296.6 M33.1,290.3 H36.5 M33.1,296.6 H36.5" stroke="#555" stroke-width="0.9" fill="none"/>
<path d="M60.4,292.7 V299.0 M58.7,292.7 H62.1 M58.7,299.0 H62.1" stroke="#555" stroke-width="0.9" fill="none"/>
<path d="M86.0,296.8 V303.1 M84.3,296.8 H87.7 M84.3,303.1 H87.7" stroke="#555" stroke-width="0.9" fill="none"/>
<path d="M111.6,300.6 V306.9 M109.9,300.6 H113.3 M109.9,306.9 H113.3" stroke="#555" stroke-width="0.9" fill="none"/>
<path d="M137.2,300.6 V306.9 M135.5,300.6 H138.9 M135.5,306.9 H138.9" stroke="#555" stroke-width="0.9" fill="none"/>
<path d="M162.8,304.0 V310.4 M161.1,304.0 H164.5 M161.1,310.4 H164.5" stroke="#555" stroke-width="0.9" fill="none"/>
<path d="M188.4,312.9 V325.5 M186.7,312.9 H190.1 M186.7,325.5 H190.1" stroke="#555" stroke-width="0.9" fill="none"/>
<path d="M214.0,314.9 V340.2 M212.3,314.9 H215.7 M212.3,340.2 H215.7" stroke="#555" stroke-width="0.9" fill="none"/>
<path d="M239.6,319.5 V332.2 M237.9,319.5 H241.3 M237.9,332.2 H241.3" stroke="#555" stroke-width="0.9" fill="none"/>
<circle cx="34.8" cy="293.5" r="4.0" fill="#000"/>
<circle cx="60.4" cy="295.8" r="4.0" fill="#000"/>
<circle cx="86.0" cy="299.9" r="4.0" fill="#000"/>
<circle cx="111.6" cy="303.7" r="4.0" fill="#000"/>
<circle cx="137.2" cy="303.7" r="4.0" fill="#000"/>
<circle cx="162.8" cy="307.2" r="4.0" fill="#000"/>
<circle cx="188.4" cy="319.2" r="4.0" fill="#000"/>
<circle cx="214.0" cy="327.6" r="4.0" fill="#000"/>
<circle cx="239.6" cy="325.8" r="4.0" fill="#000"/>
<path d="M34.8,294.6 L60.4,294.6 L86.0,294.6 L111.6,296.9 L137.2,293.5 L162.8,293.5 L188.4,298.0 L214.0,296.9 L239.6,296.9" fill="none" stroke="#666" stroke-width="1.1"/>
<path d="M31.3,294.6 H38.3" stroke="#222" stroke-width="1.5"/>
<path d="M56.9,294.6 H63.9" stroke="#222" stroke-width="1.5"/>
<path d="M82.5,294.6 H89.5" stroke="#222" stroke-width="1.5"/>
<path d="M108.1,296.9 H115.1" stroke="#222" stroke-width="1.5"/>
<path d="M133.7,293.5 H140.7" stroke="#222" stroke-width="1.5"/>
<path d="M159.3,293.5 H166.3" stroke="#222" stroke-width="1.5"/>
<path d="M184.9,298.0 H191.9" stroke="#222" stroke-width="1.5"/>
<path d="M210.5,296.9 H217.5" stroke="#222" stroke-width="1.5"/>
<path d="M236.1,296.9 H243.1" stroke="#222" stroke-width="1.5"/>
<path d="M34.8,291.4 V297.7 M33.1,291.4 H36.5 M33.1,297.7 H36.5" stroke="#555" stroke-width="0.9" fill="none"/>
<path d="M60.4,291.4 V297.7 M58.7,291.4 H62.1 M58.7,297.7 H62.1" stroke="#555" stroke-width="0.9" fill="none"/>
<path d="M86.0,291.4 V297.7 M84.3,291.4 H87.7 M84.3,297.7 H87.7" stroke="#555" stroke-width="0.9" fill="none"/>
<path d="M111.6,293.8 V300.1 M109.9,293.8 H113.3 M109.9,300.1 H113.3" stroke="#555" stroke-width="0.9" fill="none"/>
<path d="M137.2,290.3 V296.6 M135.5,290.3 H138.9 M135.5,296.6 H138.9" stroke="#555" stroke-width="0.9" fill="none"/>
<path d="M162.8,290.3 V296.6 M161.1,290.3 H164.5 M161.1,296.6 H164.5" stroke="#555" stroke-width="0.9" fill="none"/>
<path d="M188.4,293.3 V302.8 M186.7,293.3 H190.1 M186.7,302.8 H190.1" stroke="#555" stroke-width="0.9" fill="none"/>
<path d="M214.0,293.8 V300.1 M212.3,293.8 H215.7 M212.3,300.1 H215.7" stroke="#555" stroke-width="0.9" fill="none"/>
<path d="M239.6,293.8 V300.1 M237.9,293.8 H241.3 M237.9,300.1 H241.3" stroke="#555" stroke-width="0.9" fill="none"/>
<path d="M60.40,286.00 L60.40,280.00 M57.80,284.50 L63.00,281.50 M63.00,284.50 L57.80,281.50 " stroke="#555" stroke-width="1.1" stroke-linecap="round" fill="none"/>
<path d="M86.00,288.40 L86.00,282.40 M83.40,286.90 L88.60,283.90 M88.60,286.90 L83.40,283.90 " stroke="#555" stroke-width="1.1" stroke-linecap="round" fill="none"/>
<path d="M111.60,291.40 L111.60,285.40 M109.00,289.90 L114.20,286.90 M114.20,289.90 L109.00,286.90 " stroke="#555" stroke-width="1.1" stroke-linecap="round" fill="none"/>
<path d="M137.20,293.00 L137.20,287.00 M134.60,291.50 L139.80,288.50 M139.80,291.50 L134.60,288.50 " stroke="#555" stroke-width="1.1" stroke-linecap="round" fill="none"/>
<path d="M162.80,294.60 L162.80,288.60 M160.20,293.10 L165.40,290.10 M165.40,293.10 L160.20,290.10 " stroke="#555" stroke-width="1.1" stroke-linecap="round" fill="none"/>
<path d="M188.40,313.80 L188.40,307.80 M185.80,312.30 L191.00,309.30 M191.00,312.30 L185.80,309.30 " stroke="#555" stroke-width="1.1" stroke-linecap="round" fill="none"/>
<path d="M214.00,316.00 L214.00,310.00 M211.40,314.50 L216.60,311.50 M216.60,314.50 L211.40,311.50 " stroke="#555" stroke-width="1.1" stroke-linecap="round" fill="none"/>
<path d="M239.60,319.00 L239.60,313.00 M237.00,317.50 L242.20,314.50 M242.20,317.50 L237.00,314.50 " stroke="#555" stroke-width="1.1" stroke-linecap="round" fill="none"/>
<path d="M86.00,312.20 L86.00,306.20 M83.40,310.70 L88.60,307.70 M88.60,310.70 L83.40,307.70 " stroke="#555" stroke-width="1.1" stroke-linecap="round" fill="none"/>
<path d="M111.60,317.20 L111.60,311.20 M109.00,315.70 L114.20,312.70 M114.20,315.70 L109.00,312.70 " stroke="#555" stroke-width="1.1" stroke-linecap="round" fill="none"/>
<path d="M137.20,322.30 L137.20,316.30 M134.60,320.80 L139.80,317.80 M139.80,320.80 L134.60,317.80 " stroke="#555" stroke-width="1.1" stroke-linecap="round" fill="none"/>
<path d="M162.80,327.60 L162.80,321.60 M160.20,326.10 L165.40,323.10 M165.40,326.10 L160.20,323.10 " stroke="#555" stroke-width="1.1" stroke-linecap="round" fill="none"/>
<path d="M188.40,346.00 L188.40,340.00 M185.80,344.50 L191.00,341.50 M191.00,344.50 L185.80,341.50 " stroke="#111" stroke-width="1.5" stroke-linecap="round" fill="none"/>
<path d="M214.00,349.00 L214.00,343.00 M211.40,347.50 L216.60,344.50 M216.60,347.50 L211.40,344.50 " stroke="#111" stroke-width="1.5" stroke-linecap="round" fill="none"/>
<path d="M239.60,346.00 L239.60,340.00 M237.00,344.50 L242.20,341.50 M242.20,344.50 L237.00,341.50 " stroke="#111" stroke-width="1.5" stroke-linecap="round" fill="none"/>
<text font-family="'Liberation Sans', sans-serif" font-weight="bold" font-size="26" x="265.0" y="266.8">D</text>
<path d="M306.1,285.4 V442.2 H510.9" fill="none" stroke="#848484" stroke-width="1.4"/>
<line x1="303.6" y1="442.2" x2="306.1" y2="442.2" stroke="#848484" stroke-width="1"/>
<text font-family="'Liberation Serif', serif" font-size="15.5" text-anchor="middle" transform="translate(300.6,442.2) rotate(-90)">0</text>
<line x1="303.6" y1="410.8" x2="306.1" y2="410.8" stroke="#848484" stroke-width="1"/>
<text font-family="'Liberation Serif', serif" font-size="15.5" text-anchor="middle" transform="translate(300.6,410.8) rotate(-90)">20</text>
<line x1="303.6" y1="379.5" x2="306.1" y2="379.5" stroke="#848484" stroke-width="1"/>
<text font-family="'Liberation Serif', serif" font-size="15.5" text-anchor="middle" transform="translate(300.6,379.5) rotate(-90)">40</text>
<line x1="303.6" y1="348.1" x2="306.1" y2="348.1" stroke="#848484" stroke-width="1"/>
<text font-family="'Liberation Serif', serif" font-size="15.5" text-anchor="middle" transform="translate(300.6,348.1) rotate(-90)">60</text>
<line x1="303.6" y1="316.8" x2="306.1" y2="316.8" stroke="#848484" stroke-width="1"/>
<text font-family="'Liberation Serif', serif" font-size="15.5" text-anchor="middle" transform="translate(300.6,316.8) rotate(-90)">80</text>
<line x1="303.6" y1="285.4" x2="306.1" y2="285.4" stroke="#848484" stroke-width="1"/>
<text font-family="'Liberation Serif', serif" font-size="14.3" text-anchor="middle" transform="translate(300.6,282.9) rotate(-90)">100</text>
<line x1="306.1" y1="442.2" x2="306.1" y2="439.7" stroke="#848484" stroke-width="1"/>
<text font-family="'Liberation Serif', serif" font-size="13.5" text-anchor="middle" x="303.7" y="456.3">0</text>
<line x1="331.7" y1="442.2" x2="331.7" y2="439.7" stroke="#848484" stroke-width="1"/>
<text font-family="'Liberation Serif', serif" font-size="13.5" text-anchor="middle" x="329.7" y="456.3">6</text>
<line x1="357.3" y1="442.2" x2="357.3" y2="439.7" stroke="#848484" stroke-width="1"/>
<text font-family="'Liberation Serif', serif" font-size="13.5" text-anchor="middle" x="355.7" y="456.3">12</text>
<line x1="382.9" y1="442.2" x2="382.9" y2="439.7" stroke="#848484" stroke-width="1"/>
<text font-family="'Liberation Serif', serif" font-size="13.5" text-anchor="middle" x="381.7" y="456.3">24</text>
<line x1="408.5" y1="442.2" x2="408.5" y2="439.7" stroke="#848484" stroke-width="1"/>
<text font-family="'Liberation Serif', serif" font-size="13.5" text-anchor="middle" x="407.7" y="456.3">30</text>
<line x1="434.1" y1="442.2" x2="434.1" y2="439.7" stroke="#848484" stroke-width="1"/>
<text font-family="'Liberation Serif', serif" font-size="13.5" text-anchor="middle" x="433.7" y="456.3">36</text>
<line x1="459.7" y1="442.2" x2="459.7" y2="439.7" stroke="#848484" stroke-width="1"/>
<text font-family="'Liberation Serif', serif" font-size="13.5" text-anchor="middle" x="459.7" y="456.3">48</text>
<line x1="485.3" y1="442.2" x2="485.3" y2="439.7" stroke="#848484" stroke-width="1"/>
<text font-family="'Liberation Serif', serif" font-size="13.5" text-anchor="middle" x="485.7" y="456.3">58</text>
<line x1="510.9" y1="442.2" x2="510.9" y2="439.7" stroke="#848484" stroke-width="1"/>
<text font-family="'Liberation Serif', serif" font-size="13.5" text-anchor="middle" x="511.7" y="456.3">72</text>
<text font-family="'Liberation Serif', serif" font-size="14.6" text-anchor="middle" x="410.3" y="469.8">hours</text>
<text font-family="'Liberation Serif', serif" font-size="14.6" text-anchor="middle" transform="translate(284.9,356.7) rotate(-90)">% viability</text>
<path d="M306.1,315.3 L331.7,321.2 L357.3,337.8 L382.9,346.6 L408.5,343.7 L434.1,350.0 L459.7,361.4 L485.3,362.2 L510.9,372.0" fill="none" stroke="#666" stroke-width="1.1"/>
<path d="M306.1,311.6 L310.1,315.3 L306.1,319.0 L302.1,315.3Z" fill="none" stroke="#333" stroke-width="0.9"/>
<path d="M331.7,317.5 L335.7,321.2 L331.7,324.9 L327.7,321.2Z" fill="none" stroke="#333" stroke-width="0.9"/>
<path d="M357.3,334.1 L361.3,337.8 L357.3,341.5 L353.3,337.8Z" fill="none" stroke="#333" stroke-width="0.9"/>
<path d="M382.9,342.9 L386.9,346.6 L382.9,350.3 L378.9,346.6Z" fill="none" stroke="#333" stroke-width="0.9"/>
<path d="M408.5,340.0 L412.5,343.7 L408.5,347.4 L404.5,343.7Z" fill="none" stroke="#333" stroke-width="0.9"/>
<path d="M434.1,346.3 L438.1,350.0 L434.1,353.7 L430.1,350.0Z" fill="none" stroke="#333" stroke-width="0.9"/>
<path d="M459.7,357.7 L463.7,361.4 L459.7,365.1 L455.7,361.4Z" fill="none" stroke="#333" stroke-width="0.9"/>
<path d="M485.3,358.5 L489.3,362.2 L485.3,365.9 L481.3,362.2Z" fill="none" stroke="#333" stroke-width="0.9"/>
<path d="M510.9,368.3 L514.9,372.0 L510.9,375.7 L506.9,372.0Z" fill="none" stroke="#333" stroke-width="0.9"/>
<path d="M306.1,312.2 V318.5 M304.4,312.2 H307.8 M304.4,318.5 H307.8" stroke="#555" stroke-width="0.9" fill="none"/>
<path d="M331.7,318.0 V324.3 M330.0,318.0 H333.4 M330.0,324.3 H333.4" stroke="#555" stroke-width="0.9" fill="none"/>
<path d="M357.3,329.9 V345.6 M355.6,329.9 H359.0 M355.6,345.6 H359.0" stroke="#555" stroke-width="0.9" fill="none"/>
<path d="M382.9,332.4 V360.7 M381.2,332.4 H384.6 M381.2,360.7 H384.6" stroke="#555" stroke-width="0.9" fill="none"/>
<path d="M408.5,328.0 V359.4 M406.8,328.0 H410.2 M406.8,359.4 H410.2" stroke="#555" stroke-width="0.9" fill="none"/>
<path d="M434.1,340.6 V359.4 M432.4,340.6 H435.8 M432.4,359.4 H435.8" stroke="#555" stroke-width="0.9" fill="none"/>
<path d="M459.7,348.9 V374.0 M458.0,348.9 H461.4 M458.0,374.0 H461.4" stroke="#555" stroke-width="0.9" fill="none"/>
<path d="M485.3,352.8 V371.6 M483.6,352.8 H487.0 M483.6,371.6 H487.0" stroke="#555" stroke-width="0.9" fill="none"/>
<path d="M510.9,364.1 V379.8 M509.2,364.1 H512.6 M509.2,379.8 H512.6" stroke="#555" stroke-width="0.9" fill="none"/>
<path d="M306.1,307.8 L331.7,312.4 L357.3,314.7 L382.9,326.2 L408.5,322.2 L434.1,327.6 L459.7,336.2 L485.3,333.9 L510.9,337.8" fill="none" stroke="#666" stroke-width="1.1"/>
<path d="M306.1,304.7 V311.0 M304.4,304.7 H307.8 M304.4,311.0 H307.8" stroke="#555" stroke-width="0.9" fill="none"/>
<path d="M331.7,309.2 V315.5 M330.0,309.2 H333.4 M330.0,315.5 H333.4" stroke="#555" stroke-width="0.9" fill="none"/>
<path d="M357.3,310.0 V319.4 M355.6,310.0 H359.0 M355.6,319.4 H359.0" stroke="#555" stroke-width="0.9" fill="none"/>
<path d="M382.9,318.3 V334.0 M381.2,318.3 H384.6 M381.2,334.0 H384.6" stroke="#555" stroke-width="0.9" fill="none"/>
<path d="M408.5,314.4 V330.1 M406.8,314.4 H410.2 M406.8,330.1 H410.2" stroke="#555" stroke-width="0.9" fill="none"/>
<path d="M434.1,319.7 V335.4 M432.4,319.7 H435.8 M432.4,335.4 H435.8" stroke="#555" stroke-width="0.9" fill="none"/>
<path d="M459.7,329.9 V342.5 M458.0,329.9 H461.4 M458.0,342.5 H461.4" stroke="#555" stroke-width="0.9" fill="none"/>
<path d="M485.3,327.6 V340.1 M483.6,327.6 H487.0 M483.6,340.1 H487.0" stroke="#555" stroke-width="0.9" fill="none"/>
<path d="M510.9,331.5 V344.0 M509.2,331.5 H512.6 M509.2,344.0 H512.6" stroke="#555" stroke-width="0.9" fill="none"/>
<path d="M306.1,303.7 L310.2,311.5 L302.0,311.5Z" fill="#000"/>
<path d="M331.7,308.3 L335.8,316.1 L327.6,316.1Z" fill="#000"/>
<path d="M357.3,310.6 L361.4,318.4 L353.2,318.4Z" fill="#000"/>
<path d="M382.9,322.1 L387.0,329.9 L378.8,329.9Z" fill="#000"/>
<path d="M408.5,318.1 L412.6,325.9 L404.4,325.9Z" fill="#000"/>
<path d="M434.1,323.5 L438.2,331.3 L430.0,331.3Z" fill="#000"/>
<path d="M459.7,332.1 L463.8,339.9 L455.6,339.9Z" fill="#000"/>
<path d="M485.3,329.8 L489.4,337.5 L481.2,337.5Z" fill="#000"/>
<path d="M510.9,333.7 L515.0,341.5 L506.8,341.5Z" fill="#000"/>
<path d="M306.1,300.8 L331.7,302.6 L357.3,306.3 L382.9,316.4 L408.5,307.8 L434.1,316.0 L459.7,320.1 L485.3,315.3 L510.9,322.2" fill="none" stroke="#666" stroke-width="1.1"/>
<path d="M306.1,297.6 V303.9 M304.4,297.6 H307.8 M304.4,303.9 H307.8" stroke="#555" stroke-width="0.9" fill="none"/>
<path d="M331.7,299.5 V305.8 M330.0,299.5 H333.4 M330.0,305.8 H333.4" stroke="#555" stroke-width="0.9" fill="none"/>
<path d="M357.3,301.6 V311.0 M355.6,301.6 H359.0 M355.6,311.0 H359.0" stroke="#555" stroke-width="0.9" fill="none"/>
<path d="M382.9,307.0 V325.9 M381.2,307.0 H384.6 M381.2,325.9 H384.6" stroke="#555" stroke-width="0.9" fill="none"/>
<path d="M408.5,303.1 V312.5 M406.8,303.1 H410.2 M406.8,312.5 H410.2" stroke="#555" stroke-width="0.9" fill="none"/>
<path d="M434.1,309.7 V322.2 M432.4,309.7 H435.8 M432.4,322.2 H435.8" stroke="#555" stroke-width="0.9" fill="none"/>
<path d="M459.7,310.6 V329.5 M458.0,310.6 H461.4 M458.0,329.5 H461.4" stroke="#555" stroke-width="0.9" fill="none"/>
<path d="M485.3,309.1 V321.6 M483.6,309.1 H487.0 M483.6,321.6 H487.0" stroke="#555" stroke-width="0.9" fill="none"/>
<path d="M510.9,316.0 V328.5 M509.2,316.0 H512.6 M509.2,328.5 H512.6" stroke="#555" stroke-width="0.9" fill="none"/>
<circle cx="306.1" cy="300.8" r="4.0" fill="#000"/>
<circle cx="331.7" cy="302.6" r="4.0" fill="#000"/>
<circle cx="357.3" cy="306.3" r="4.0" fill="#000"/>
<circle cx="382.9" cy="316.4" r="4.0" fill="#000"/>
<circle cx="408.5" cy="307.8" r="4.0" fill="#000"/>
<circle cx="434.1" cy="316.0" r="4.0" fill="#000"/>
<circle cx="459.7" cy="320.1" r="4.0" fill="#000"/>
<circle cx="485.3" cy="315.3" r="4.0" fill="#000"/>
<circle cx="510.9" cy="322.2" r="4.0" fill="#000"/>
<path d="M306.1,292.3 L331.7,297.0 L357.3,298.1 L382.9,306.3 L408.5,303.7 L434.1,309.5 L459.7,308.4 L485.3,308.4 L510.9,314.7" fill="none" stroke="#666" stroke-width="1.1"/>
<path d="M302.6,292.3 H309.6" stroke="#222" stroke-width="1.5"/>
<path d="M328.2,297.0 H335.2" stroke="#222" stroke-width="1.5"/>
<path d="M353.8,298.1 H360.8" stroke="#222" stroke-width="1.5"/>
<path d="M379.4,306.3 H386.4" stroke="#222" stroke-width="1.5"/>
<path d="M405.0,303.7 H412.0" stroke="#222" stroke-width="1.5"/>
<path d="M430.6,309.5 H437.6" stroke="#222" stroke-width="1.5"/>
<path d="M456.2,308.4 H463.2" stroke="#222" stroke-width="1.5"/>
<path d="M481.8,308.4 H488.8" stroke="#222" stroke-width="1.5"/>
<path d="M507.4,314.7 H514.4" stroke="#222" stroke-width="1.5"/>
<path d="M306.1,289.2 V295.4 M304.4,289.2 H307.8 M304.4,295.4 H307.8" stroke="#555" stroke-width="0.9" fill="none"/>
<path d="M331.7,293.9 V300.1 M330.0,293.9 H333.4 M330.0,300.1 H333.4" stroke="#555" stroke-width="0.9" fill="none"/>
<path d="M357.3,295.0 V301.2 M355.6,295.0 H359.0 M355.6,301.2 H359.0" stroke="#555" stroke-width="0.9" fill="none"/>
<path d="M382.9,300.0 V312.5 M381.2,300.0 H384.6 M381.2,312.5 H384.6" stroke="#555" stroke-width="0.9" fill="none"/>
<path d="M408.5,300.6 V306.9 M406.8,300.6 H410.2 M406.8,306.9 H410.2" stroke="#555" stroke-width="0.9" fill="none"/>
<path d="M434.1,304.8 V314.3 M432.4,304.8 H435.8 M432.4,314.3 H435.8" stroke="#555" stroke-width="0.9" fill="none"/>
<path d="M459.7,302.2 V314.7 M458.0,302.2 H461.4 M458.0,314.7 H461.4" stroke="#555" stroke-width="0.9" fill="none"/>
<path d="M485.3,303.7 V313.2 M483.6,303.7 H487.0 M483.6,313.2 H487.0" stroke="#555" stroke-width="0.9" fill="none"/>
<path d="M510.9,308.4 V321.0 M509.2,308.4 H512.6 M509.2,321.0 H512.6" stroke="#555" stroke-width="0.9" fill="none"/>
<path d="M340.20,301.00 L340.20,295.00 M337.60,299.50 L342.80,296.50 M342.80,299.50 L337.60,296.50 " stroke="#555" stroke-width="1.1" stroke-linecap="round" fill="none"/>
<path d="M340.20,310.80 L340.20,304.80 M337.60,309.30 L342.80,306.30 M342.80,309.30 L337.60,306.30 " stroke="#555" stroke-width="1.1" stroke-linecap="round" fill="none"/>
<path d="M365.80,306.80 L365.80,300.80 M363.20,305.30 L368.40,302.30 M368.40,305.30 L363.20,302.30 " stroke="#555" stroke-width="1.1" stroke-linecap="round" fill="none"/>
<path d="M365.80,316.00 L365.80,310.00 M363.20,314.50 L368.40,311.50 M368.40,314.50 L363.20,311.50 " stroke="#555" stroke-width="1.1" stroke-linecap="round" fill="none"/>
<path d="M442.60,315.00 L442.60,309.00 M440.00,313.50 L445.20,310.50 M445.20,313.50 L440.00,310.50 " stroke="#555" stroke-width="1.1" stroke-linecap="round" fill="none"/>
<path d="M468.20,315.00 L468.20,309.00 M465.60,313.50 L470.80,310.50 M470.80,313.50 L465.60,310.50 " stroke="#555" stroke-width="1.1" stroke-linecap="round" fill="none"/>
<path d="M468.20,332.20 L468.20,326.20 M465.60,330.70 L470.80,327.70 M470.80,330.70 L465.60,327.70 " stroke="#555" stroke-width="1.1" stroke-linecap="round" fill="none"/>
<path d="M493.80,315.00 L493.80,309.00 M491.20,313.50 L496.40,310.50 M496.40,313.50 L491.20,310.50 " stroke="#555" stroke-width="1.1" stroke-linecap="round" fill="none"/>
<path d="M493.80,332.20 L493.80,326.20 M491.20,330.70 L496.40,327.70 M496.40,330.70 L491.20,327.70 " stroke="#555" stroke-width="1.1" stroke-linecap="round" fill="none"/>
<path d="M516.50,315.00 L516.50,309.00 M513.90,313.50 L519.10,310.50 M519.10,313.50 L513.90,310.50 " stroke="#555" stroke-width="1.1" stroke-linecap="round" fill="none"/>
<path d="M516.50,332.20 L516.50,326.20 M513.90,330.70 L519.10,327.70 M519.10,330.70 L513.90,327.70 " stroke="#555" stroke-width="1.1" stroke-linecap="round" fill="none"/>
<text font-family="'Liberation Sans', sans-serif" font-weight="bold" font-size="26" x="0.0" y="516.2">E</text>
<path d="M36.3,536.0 V698.5 H222.5" fill="none" stroke="#848484" stroke-width="1.4"/>
<line x1="33.8" y1="698.5" x2="36.3" y2="698.5" stroke="#848484" stroke-width="1"/>
<text font-family="'Liberation Serif', serif" font-size="15.5" text-anchor="middle" transform="translate(30.1,697.5) rotate(-90)">0</text>
<line x1="33.8" y1="666.0" x2="36.3" y2="666.0" stroke="#848484" stroke-width="1"/>
<text font-family="'Liberation Serif', serif" font-size="15.5" text-anchor="middle" transform="translate(30.1,665.0) rotate(-90)">20</text>
<line x1="33.8" y1="633.5" x2="36.3" y2="633.5" stroke="#848484" stroke-width="1"/>
<text font-family="'Liberation Serif', serif" font-size="15.5" text-anchor="middle" transform="translate(30.1,632.5) rotate(-90)">40</text>
<line x1="33.8" y1="601.0" x2="36.3" y2="601.0" stroke="#848484" stroke-width="1"/>
<text font-family="'Liberation Serif', serif" font-size="15.5" text-anchor="middle" transform="translate(30.1,600.0) rotate(-90)">60</text>
<line x1="33.8" y1="568.5" x2="36.3" y2="568.5" stroke="#848484" stroke-width="1"/>
<text font-family="'Liberation Serif', serif" font-size="15.5" text-anchor="middle" transform="translate(30.1,567.5) rotate(-90)">80</text>
<line x1="33.8" y1="536.0" x2="36.3" y2="536.0" stroke="#848484" stroke-width="1"/>
<text font-family="'Liberation Serif', serif" font-size="14.3" text-anchor="middle" transform="translate(30.1,532.5) rotate(-90)">100</text>
<line x1="36.3" y1="698.5" x2="36.3" y2="696.0" stroke="#848484" stroke-width="1"/>
<text font-family="'Liberation Serif', serif" font-size="14.5" text-anchor="middle" x="36.3" y="714.5">0</text>
<line x1="82.8" y1="698.5" x2="82.8" y2="696.0" stroke="#848484" stroke-width="1"/>
<text font-family="'Liberation Serif', serif" font-size="14.5" text-anchor="middle" x="82.8" y="714.5">6</text>
<line x1="129.4" y1="698.5" x2="129.4" y2="696.0" stroke="#848484" stroke-width="1"/>
<text font-family="'Liberation Serif', serif" font-size="14.5" text-anchor="middle" x="129.4" y="714.5">24</text>
<line x1="175.9" y1="698.5" x2="175.9" y2="696.0" stroke="#848484" stroke-width="1"/>
<text font-family="'Liberation Serif', serif" font-size="14.5" text-anchor="middle" x="175.9" y="714.5">48</text>
<line x1="222.5" y1="698.5" x2="222.5" y2="696.0" stroke="#848484" stroke-width="1"/>
<text font-family="'Liberation Serif', serif" font-size="14.5" text-anchor="middle" x="222.5" y="714.5">72</text>
<text font-family="'Liberation Serif', serif" font-size="15.1" text-anchor="middle" x="129.6" y="730.8">hours</text>
<text font-family="'Liberation Serif', serif" font-size="15.1" text-anchor="middle" transform="translate(12.9,607.8) rotate(-90)">% viability</text>
<path d="M36.3,566.5 L82.8,574.7 L129.4,592.1 L175.9,628.0 L222.5,644.5" fill="none" stroke="#666" stroke-width="1.1"/>
<path d="M36.3,562.8 L40.3,566.5 L36.3,570.2 L32.3,566.5Z" fill="none" stroke="#333" stroke-width="0.9"/>
<path d="M82.8,571.0 L86.8,574.7 L82.8,578.4 L78.8,574.7Z" fill="none" stroke="#333" stroke-width="0.9"/>
<path d="M129.4,588.4 L133.4,592.1 L129.4,595.8 L125.4,592.1Z" fill="none" stroke="#333" stroke-width="0.9"/>
<path d="M175.9,624.3 L179.9,628.0 L175.9,631.7 L171.9,628.0Z" fill="none" stroke="#333" stroke-width="0.9"/>
<path d="M222.5,640.8 L226.5,644.5 L222.5,648.2 L218.5,644.5Z" fill="none" stroke="#333" stroke-width="0.9"/>
<path d="M82.8,569.8 V579.5 M81.1,569.8 H84.5 M81.1,579.5 H84.5" stroke="#555" stroke-width="0.9" fill="none"/>
<path d="M129.4,585.6 V598.6 M127.7,585.6 H131.1 M127.7,598.6 H131.1" stroke="#555" stroke-width="0.9" fill="none"/>
<path d="M175.9,616.6 V639.4 M174.2,616.6 H177.6 M174.2,639.4 H177.6" stroke="#555" stroke-width="0.9" fill="none"/>
<path d="M36.3,561.4 L82.8,557.8 L129.4,562.5 L175.9,583.5 L222.5,621.8" fill="none" stroke="#666" stroke-width="1.1"/>
<path d="M36.3,556.5 V566.2 M34.6,556.5 H38.0 M34.6,566.2 H38.0" stroke="#555" stroke-width="0.9" fill="none"/>
<path d="M82.8,552.9 V562.6 M81.1,552.9 H84.5 M81.1,562.6 H84.5" stroke="#555" stroke-width="0.9" fill="none"/>
<path d="M129.4,557.6 V567.4 M127.7,557.6 H131.1 M127.7,567.4 H131.1" stroke="#555" stroke-width="0.9" fill="none"/>
<path d="M175.9,575.3 V591.6 M174.2,575.3 H177.6 M174.2,591.6 H177.6" stroke="#555" stroke-width="0.9" fill="none"/>
<path d="M36.3,557.4 L40.3,561.4 L36.3,565.4 L32.3,561.4Z" fill="#000" stroke="#000" stroke-width="0.4"/>
<path d="M82.8,553.8 L86.8,557.8 L82.8,561.8 L78.8,557.8Z" fill="#000" stroke="#000" stroke-width="0.4"/>
<path d="M129.4,558.5 L133.4,562.5 L129.4,566.5 L125.4,562.5Z" fill="#000" stroke="#000" stroke-width="0.4"/>
<path d="M175.9,579.5 L179.9,583.5 L175.9,587.5 L171.9,583.5Z" fill="#000" stroke="#000" stroke-width="0.4"/>
<path d="M222.5,617.8 L226.5,621.8 L222.5,625.8 L218.5,621.8Z" fill="#000" stroke="#000" stroke-width="0.4"/>
<path d="M82.85,547.00 L82.85,541.00 M80.25,545.50 L85.45,542.50 M85.45,545.50 L80.25,542.50 " stroke="#555" stroke-width="1.1" stroke-linecap="round" fill="none"/>
<path d="M129.40,552.00 L129.40,546.00 M126.80,550.50 L132.00,547.50 M132.00,550.50 L126.80,547.50 " stroke="#555" stroke-width="1.1" stroke-linecap="round" fill="none"/>
<path d="M175.95,568.50 L175.95,562.50 M173.35,567.00 L178.55,564.00 M178.55,567.00 L173.35,564.00 " stroke="#555" stroke-width="1.1" stroke-linecap="round" fill="none"/>
<path d="M222.50,611.00 L222.50,605.00 M219.90,609.50 L225.10,606.50 M225.10,609.50 L219.90,606.50 " stroke="#555" stroke-width="1.1" stroke-linecap="round" fill="none"/>
<text font-family="'Liberation Sans', sans-serif" font-weight="bold" font-size="26" x="264.5" y="516.0">F</text>
<path d="M306.8,537.7 V697.1 H493.5" fill="none" stroke="#848484" stroke-width="1.4"/>
<line x1="304.3" y1="697.1" x2="306.8" y2="697.1" stroke="#848484" stroke-width="1"/>
<text font-family="'Liberation Serif', serif" font-size="15.5" text-anchor="middle" transform="translate(301.4,696.1) rotate(-90)">0</text>
<line x1="304.3" y1="665.2" x2="306.8" y2="665.2" stroke="#848484" stroke-width="1"/>
<text font-family="'Liberation Serif', serif" font-size="15.5" text-anchor="middle" transform="translate(301.4,664.2) rotate(-90)">20</text>
<line x1="304.3" y1="633.3" x2="306.8" y2="633.3" stroke="#848484" stroke-width="1"/>
<text font-family="'Liberation Serif', serif" font-size="15.5" text-anchor="middle" transform="translate(301.4,632.3) rotate(-90)">40</text>
<line x1="304.3" y1="601.5" x2="306.8" y2="601.5" stroke="#848484" stroke-width="1"/>
<text font-family="'Liberation Serif', serif" font-size="15.5" text-anchor="middle" transform="translate(301.4,600.5) rotate(-90)">60</text>
<line x1="304.3" y1="569.6" x2="306.8" y2="569.6" stroke="#848484" stroke-width="1"/>
<text font-family="'Liberation Serif', serif" font-size="15.5" text-anchor="middle" transform="translate(301.4,568.6) rotate(-90)">80</text>
<line x1="304.3" y1="537.7" x2="306.8" y2="537.7" stroke="#848484" stroke-width="1"/>
<text font-family="'Liberation Serif', serif" font-size="14.3" text-anchor="middle" transform="translate(301.4,533.2) rotate(-90)">100</text>
<line x1="306.8" y1="697.1" x2="306.8" y2="694.6" stroke="#848484" stroke-width="1"/>
<text font-family="'Liberation Serif', serif" font-size="14.5" text-anchor="middle" x="306.8" y="714.2">0</text>
<line x1="353.5" y1="697.1" x2="353.5" y2="694.6" stroke="#848484" stroke-width="1"/>
<text font-family="'Liberation Serif', serif" font-size="14.5" text-anchor="middle" x="353.5" y="714.2">6</text>
<line x1="400.1" y1="697.1" x2="400.1" y2="694.6" stroke="#848484" stroke-width="1"/>
<text font-family="'Liberation Serif', serif" font-size="14.5" text-anchor="middle" x="400.1" y="714.2">24</text>
<line x1="446.8" y1="697.1" x2="446.8" y2="694.6" stroke="#848484" stroke-width="1"/>
<text font-family="'Liberation Serif', serif" font-size="14.5" text-anchor="middle" x="446.8" y="714.2">48</text>
<line x1="493.5" y1="697.1" x2="493.5" y2="694.6" stroke="#848484" stroke-width="1"/>
<text font-family="'Liberation Serif', serif" font-size="14.5" text-anchor="middle" x="493.5" y="714.2">72</text>
<text font-family="'Liberation Serif', serif" font-size="15.2" text-anchor="middle" x="400.6" y="732.0">hours</text>
<text font-family="'Liberation Serif', serif" font-size="15.2" text-anchor="middle" transform="translate(284.2,606.2) rotate(-90)">% viability</text>
<path d="M306.8,575.2 L353.5,589.7 L400.1,616.6 L446.8,678.0 L493.5,688.2" fill="none" stroke="#666" stroke-width="1.1"/>
<path d="M306.8,571.5 L310.8,575.2 L306.8,578.9 L302.8,575.2Z" fill="none" stroke="#333" stroke-width="0.9"/>
<path d="M353.5,586.0 L357.5,589.7 L353.5,593.4 L349.5,589.7Z" fill="none" stroke="#333" stroke-width="0.9"/>
<path d="M400.1,612.9 L404.1,616.6 L400.1,620.3 L396.1,616.6Z" fill="none" stroke="#333" stroke-width="0.9"/>
<path d="M446.8,674.3 L450.8,678.0 L446.8,681.7 L442.8,678.0Z" fill="none" stroke="#333" stroke-width="0.9"/>
<path d="M493.5,684.5 L497.5,688.2 L493.5,691.9 L489.5,688.2Z" fill="none" stroke="#333" stroke-width="0.9"/>
<path d="M306.8,559.4 L353.5,557.8 L400.1,575.2 L446.8,652.6 L493.5,680.4" fill="none" stroke="#666" stroke-width="1.1"/>
<path d="M306.8,551.4 V567.3 M305.1,551.4 H308.5 M305.1,567.3 H308.5" stroke="#555" stroke-width="0.9" fill="none"/>
<path d="M306.8,555.4 L310.8,559.4 L306.8,563.4 L302.8,559.4Z" fill="#000" stroke="#000" stroke-width="0.4"/>
<path d="M353.5,553.8 L357.5,557.8 L353.5,561.8 L349.5,557.8Z" fill="#000" stroke="#000" stroke-width="0.4"/>
<path d="M400.1,571.2 L404.1,575.2 L400.1,579.2 L396.1,575.2Z" fill="#000" stroke="#000" stroke-width="0.4"/>
<path d="M446.8,648.6 L450.8,652.6 L446.8,656.6 L442.8,652.6Z" fill="#000" stroke="#000" stroke-width="0.4"/>
<path d="M493.5,676.4 L497.5,680.4 L493.5,684.4 L489.5,680.4Z" fill="#000" stroke="#000" stroke-width="0.4"/>
<path d="M353.48,550.30 L353.48,544.30 M350.88,548.80 L356.07,545.80 M356.07,548.80 L350.88,545.80 " stroke="#555" stroke-width="1.1" stroke-linecap="round" fill="none"/>
<path d="M400.15,566.60 L400.15,560.60 M397.55,565.10 L402.75,562.10 M402.75,565.10 L397.55,562.10 " stroke="#555" stroke-width="1.1" stroke-linecap="round" fill="none"/>
<path d="M446.82,642.70 L446.82,636.70 M444.23,641.20 L449.42,638.20 M449.42,641.20 L444.23,638.20 " stroke="#555" stroke-width="1.1" stroke-linecap="round" fill="none"/>
<path d="M493.50,672.20 L493.50,666.20 M490.90,670.70 L496.10,667.70 M496.10,670.70 L490.90,667.70 " stroke="#555" stroke-width="1.1" stroke-linecap="round" fill="none"/>
<defs><filter id="bl" x="-30%" y="-100%" width="160%" height="300%"><feGaussianBlur stdDeviation="1.9 1.3"/></filter><filter id="bl2" x="-30%" y="-100%" width="160%" height="300%"><feGaussianBlur stdDeviation="1.2 0.9"/></filter></defs>
<clipPath id="c1"><rect x="63.8" y="777.0" width="27.8" height="36.0"/></clipPath>
<rect x="63.8" y="777.0" width="27.8" height="36.0" fill="#939393"/>
<g clip-path="url(#c1)">
<path d="M70.5,800.4 L70.5,796.4 Q70.5,791.6 75.5,791.6 L82.0,791.6 Q87.0,791.6 87.0,796.4 L87.0,800.4 Z" fill="#3a3a3a" opacity="0.8" filter="url(#bl)"/>
<rect x="71.2" y="796.0" width="15.2" height="4.0" rx="3.0" ry="2.0" fill="#1c1c1c" opacity="0.7" filter="url(#bl)"/>
</g>
<clipPath id="c2"><rect x="94.0" y="777.0" width="27.5" height="36.0"/></clipPath>
<rect x="94.0" y="777.0" width="27.5" height="36.0" fill="#919191"/>
<g clip-path="url(#c2)">
<path d="M96.5,800.4 L96.5,796.1 Q96.5,790.8 103.5,790.8 L112.8,790.8 Q119.8,790.8 119.8,796.1 L119.8,800.4 Z" fill="#333" opacity="0.85" filter="url(#bl)"/>
<rect x="97.1" y="795.6" width="22.0" height="4.4" rx="3.3" ry="2.2" fill="#141414" opacity="0.75" filter="url(#bl)"/>
</g>
<clipPath id="c3"><rect x="129.0" y="777.0" width="27.6" height="36.0"/></clipPath>
<rect x="129.0" y="777.0" width="27.6" height="36.0" fill="#989898"/>
<g clip-path="url(#c3)">
<path d="M133.5,800.8 L133.5,797.1 Q133.5,792.6 139.4,792.6 L147.2,792.6 Q153.1,792.6 153.1,797.1 L153.1,800.8 Z" fill="#404040" opacity="0.8" filter="url(#bl)"/>
<rect x="133.7" y="796.4" width="19.2" height="4.0" rx="3.0" ry="2.0" fill="#262626" opacity="0.6" filter="url(#bl)"/>
</g>
<clipPath id="c4"><rect x="159.0" y="777.0" width="27.5" height="36.0"/></clipPath>
<rect x="159.0" y="777.0" width="27.5" height="36.0" fill="#9c9c9c"/>
<g clip-path="url(#c4)">
<path d="M164.8,800.4 L164.8,797.1 Q164.8,793.0 170.2,793.0 L177.4,793.0 Q182.8,793.0 182.8,797.1 L182.8,800.4 Z" fill="#484848" opacity="0.78" filter="url(#bl)"/>
<rect x="165.0" y="796.1" width="17.6" height="3.8" rx="2.8" ry="1.9" fill="#303030" opacity="0.55" filter="url(#bl)"/>
</g>
<clipPath id="c5"><rect x="63.8" y="817.0" width="27.8" height="36.0"/></clipPath>
<rect x="63.8" y="817.0" width="27.8" height="36.0" fill="#929292"/>
<g clip-path="url(#c5)">
<rect x="68.0" y="825.2" width="20.0" height="2.8" rx="2.1" ry="1.4" fill="#4a4a4a" opacity="0.65" filter="url(#bl)"/>
<rect x="68.0" y="830.2" width="20.0" height="3.2" rx="2.4" ry="1.6" fill="#6e6e6e" opacity="0.5" filter="url(#bl)"/>
<rect x="66.5" y="835.2" width="23.0" height="3.6" rx="2.7" ry="1.8" fill="#333" opacity="0.78" filter="url(#bl)"/>
<rect x="68.0" y="840.1" width="20.0" height="2.8" rx="2.1" ry="1.4" fill="#5e5e5e" opacity="0.5" filter="url(#bl)"/>
</g>
<clipPath id="c6"><rect x="94.0" y="817.0" width="27.5" height="36.0"/></clipPath>
<rect x="94.0" y="817.0" width="27.5" height="36.0" fill="#939393"/>
<g clip-path="url(#c6)">
<rect x="97.5" y="825.8" width="21.0" height="2.8" rx="2.1" ry="1.4" fill="#4a4a4a" opacity="0.65" filter="url(#bl)"/>
<rect x="97.5" y="830.6" width="21.0" height="3.2" rx="2.4" ry="1.6" fill="#6e6e6e" opacity="0.5" filter="url(#bl)"/>
<rect x="96.5" y="835.7" width="23.0" height="3.6" rx="2.7" ry="1.8" fill="#333" opacity="0.78" filter="url(#bl)"/>
<rect x="98.0" y="840.1" width="20.0" height="2.8" rx="2.1" ry="1.4" fill="#5e5e5e" opacity="0.5" filter="url(#bl)"/>
</g>
<clipPath id="c7"><rect x="129.0" y="817.0" width="27.6" height="36.0"/></clipPath>
<rect x="129.0" y="817.0" width="27.6" height="36.0" fill="#8f8f8f"/>
<g clip-path="url(#c7)">
<rect x="134.0" y="826.0" width="19.0" height="3.2" rx="2.4" ry="1.6" fill="#333" opacity="0.8" filter="url(#bl)"/>
<rect x="132.5" y="832.3" width="21.0" height="8.4" rx="6.3" ry="4.2" fill="#4a4a4a" opacity="0.75" filter="url(#bl)"/>
<rect x="134.0" y="834.5" width="18.0" height="3.0" rx="2.2" ry="1.5" fill="#333" opacity="0.5" filter="url(#bl)"/>
</g>
<clipPath id="c8"><rect x="159.0" y="817.0" width="27.5" height="36.0"/></clipPath>
<rect x="159.0" y="817.0" width="27.5" height="36.0" fill="#959595"/>
<g clip-path="url(#c8)">
<rect x="163.0" y="824.3" width="20.0" height="3.0" rx="2.2" ry="1.5" fill="#3a3a3a" opacity="0.75" filter="url(#bl)"/>
<rect x="163.0" y="830.8" width="20.0" height="7.6" rx="5.7" ry="3.8" fill="#505050" opacity="0.7" filter="url(#bl)"/>
<rect x="164.0" y="832.6" width="18.0" height="2.8" rx="2.1" ry="1.4" fill="#383838" opacity="0.45" filter="url(#bl)"/>
</g>
<clipPath id="c9"><rect x="329.4" y="776.4" width="27.5" height="35.6"/></clipPath>
<rect x="329.4" y="776.4" width="27.5" height="35.6" fill="#afafaf"/>
<g clip-path="url(#c9)">
<rect x="336.0" y="793.7" width="14.0" height="3.6" rx="2.7" ry="1.8" fill="#4a4a4a" opacity="0.75" filter="url(#bl)"/>
</g>
<clipPath id="c10"><rect x="359.4" y="776.4" width="27.5" height="35.6"/></clipPath>
<rect x="359.4" y="776.4" width="27.5" height="35.6" fill="#acacac"/>
<g clip-path="url(#c10)">
<rect x="363.0" y="790.2" width="20.0" height="5.2" rx="3.9" ry="2.6" fill="#555" opacity="0.55" filter="url(#bl)"/>
<rect x="362.6" y="793.2" width="21.2" height="4.8" rx="3.6" ry="2.4" fill="#262626" opacity="0.9" filter="url(#bl)"/>
<rect x="368.0" y="777.8" width="14.0" height="2.4" rx="1.8" ry="1.2" fill="#8a8a8a" opacity="0.5" filter="url(#bl)"/>
</g>
<clipPath id="c11"><rect x="395.0" y="776.4" width="27.2" height="35.6"/></clipPath>
<rect x="395.0" y="776.4" width="27.2" height="35.6" fill="#c9c9c9"/>
<g clip-path="url(#c11)">
<rect x="398.5" y="789.9" width="20.0" height="3.4" rx="2.5" ry="1.7" fill="#8e8e8e" opacity="0.65" filter="url(#bl)"/>
<rect x="398.0" y="794.1" width="21.0" height="3.8" rx="2.8" ry="1.9" fill="#767676" opacity="0.8" filter="url(#bl)"/>
</g>
<clipPath id="c12"><rect x="424.4" y="776.4" width="27.5" height="35.6"/></clipPath>
<rect x="424.4" y="776.4" width="27.5" height="35.6" fill="#cbcbcb"/>
<g clip-path="url(#c12)">
<rect x="430.0" y="791.0" width="16.0" height="3.0" rx="2.2" ry="1.5" fill="#999" opacity="0.5" filter="url(#bl)"/>
<rect x="428.5" y="795.7" width="19.0" height="3.8" rx="2.8" ry="1.9" fill="#767676" opacity="0.8" filter="url(#bl)"/>
</g>
<clipPath id="c13"><rect x="329.4" y="816.0" width="27.5" height="35.5"/></clipPath>
<rect x="329.4" y="816.0" width="27.5" height="35.5" fill="#b0b0b0"/>
<g clip-path="url(#c13)">
<rect x="335.0" y="825.6" width="16.0" height="2.4" rx="1.8" ry="1.2" fill="#888" opacity="0.55" filter="url(#bl)"/>
<rect x="332.6" y="833.9" width="20.4" height="3.8" rx="2.8" ry="1.9" fill="#404040" opacity="0.85" filter="url(#bl)"/>
</g>
<clipPath id="c14"><rect x="359.4" y="816.0" width="27.5" height="35.5"/></clipPath>
<rect x="359.4" y="816.0" width="27.5" height="35.5" fill="#b1b1b1"/>
<g clip-path="url(#c14)">
<rect x="364.5" y="826.6" width="17.0" height="2.4" rx="1.8" ry="1.2" fill="#888" opacity="0.55" filter="url(#bl)"/>
<rect x="362.2" y="835.0" width="22.0" height="3.8" rx="2.8" ry="1.9" fill="#3c3c3c" opacity="0.85" filter="url(#bl)"/>
</g>
<clipPath id="c15"><rect x="395.0" y="816.0" width="27.2" height="35.5"/></clipPath>
<rect x="395.0" y="816.0" width="27.2" height="35.5" fill="#b3b3b3"/>
<g clip-path="url(#c15)">
<rect x="397.6" y="824.7" width="22.0" height="3.2" rx="2.4" ry="1.6" fill="#3e3e3e" opacity="0.85" filter="url(#bl)"/>
<rect x="397.6" y="830.5" width="22.0" height="3.0" rx="2.2" ry="1.5" fill="#777" opacity="0.6" filter="url(#bl)"/>
<rect x="397.1" y="833.9" width="23.0" height="4.8" rx="3.6" ry="2.4" fill="#1c1c1c" opacity="0.95" filter="url(#bl)"/>
<rect x="397.6" y="838.7" width="22.0" height="3.0" rx="2.2" ry="1.5" fill="#555" opacity="0.6" filter="url(#bl)"/>
</g>
<clipPath id="c16"><rect x="424.4" y="816.0" width="27.5" height="35.5"/></clipPath>
<rect x="424.4" y="816.0" width="27.5" height="35.5" fill="#b5b5b5"/>
<g clip-path="url(#c16)">
<rect x="428.5" y="826.7" width="19.0" height="3.0" rx="2.2" ry="1.5" fill="#454545" opacity="0.85" filter="url(#bl)"/>
<rect x="427.5" y="831.8" width="21.0" height="2.8" rx="2.1" ry="1.4" fill="#7a7a7a" opacity="0.55" filter="url(#bl)"/>
<rect x="426.5" y="835.1" width="23.0" height="4.8" rx="3.6" ry="2.4" fill="#222" opacity="0.95" filter="url(#bl)"/>
<rect x="427.5" y="840.0" width="21.0" height="3.0" rx="2.2" ry="1.5" fill="#666" opacity="0.5" filter="url(#bl)"/>
</g>
<text font-family="'Liberation Serif', serif" font-size="14" x="3.8" y="815.6">MLMC</text>
<text font-family="'Liberation Serif', serif" font-size="14" x="270.5" y="816.2">CTLMC</text>
<text font-family="'Liberation Serif', serif" font-size="14" text-anchor="middle" x="89.6" y="773.75">wt</text>
<text font-family="'Liberation Serif', serif" font-size="14" font-style="italic" text-anchor="middle" x="159.4" y="773.75">p53-/-</text>
<text font-family="'Liberation Serif', serif" font-size="14" text-anchor="middle" x="359.4" y="773.0">wt</text>
<text font-family="'Liberation Serif', serif" font-size="14" font-style="italic" text-anchor="middle" x="429.1" y="773.75">p53-/-</text>
<text font-family="'Liberation Serif', serif" font-size="14" x="189.5" y="808.75">anti-Puma</text>
<text font-family="'Liberation Serif', serif" font-size="14" x="189.5" y="842.5">anti-Erk</text>
<text font-family="'Liberation Serif', serif" font-size="14" x="458.75" y="803.75">anti-Puma</text>
<text font-family="'Liberation Serif', serif" font-size="14" x="458.75" y="837.5">anti-Erk</text>
<text font-family="'Liberation Serif', serif" font-size="13.7" text-anchor="end" transform="translate(91.5,860.0) rotate(-51)">control</text>
<text font-family="'Liberation Serif', serif" font-size="13.7" text-anchor="end" transform="translate(115.5,860.5) rotate(-51)">etoposide</text>
<text font-family="'Liberation Serif', serif" font-size="13.7" text-anchor="end" transform="translate(147.5,860.0) rotate(-51)">control</text>
<text font-family="'Liberation Serif', serif" font-size="13.7" text-anchor="end" transform="translate(172.0,860.5) rotate(-51)">etoposide</text>
<text font-family="'Liberation Serif', serif" font-size="13.7" text-anchor="end" transform="translate(358.0,860.0) rotate(-51)">control</text>
<text font-family="'Liberation Serif', serif" font-size="13.7" text-anchor="end" transform="translate(382.0,860.5) rotate(-51)">etoposide</text>
<text font-family="'Liberation Serif', serif" font-size="13.7" text-anchor="end" transform="translate(418.5,860.0) rotate(-51)">control</text>
<text font-family="'Liberation Serif', serif" font-size="13.7" text-anchor="end" transform="translate(443.0,860.5) rotate(-51)">etoposide</text>
</svg></body></html>
